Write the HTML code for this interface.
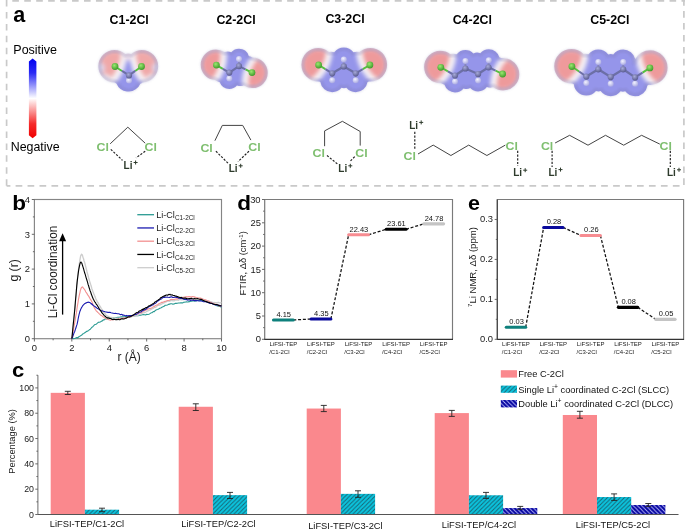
<!DOCTYPE html>
<html><head><meta charset="utf-8"><style>
html,body{margin:0;padding:0;background:#fff;}
svg{display:block;font-family:"Liberation Sans", sans-serif;will-change:transform;}
</style></head><body>
<svg width="685" height="529" viewBox="0 0 685 529">
<rect width="685" height="529" fill="#fff"/>
<line x1="12.30" y1="0.85" x2="685.00" y2="0.85" stroke="#c9c9c9" stroke-width="1.7" stroke-dasharray="6.6 5.35"/>
<line x1="6.60" y1="0.00" x2="6.60" y2="186.50" stroke="#c9c9c9" stroke-width="1.7" stroke-dasharray="6.5 5.45"/>
<line x1="6.60" y1="185.90" x2="10.40" y2="185.90" stroke="#c9c9c9" stroke-width="1.7" />
<line x1="15.60" y1="185.90" x2="682.00" y2="185.90" stroke="#c9c9c9" stroke-width="1.7" stroke-dasharray="6.7 5.25"/>
<line x1="683.90" y1="0.00" x2="683.90" y2="186.50" stroke="#c9c9c9" stroke-width="1.7" stroke-dasharray="6.6 5.35" stroke-dashoffset="0.9"/>
<text x="13.20" y="22.40" font-size="21.5" text-anchor="start" font-weight="bold" fill="#000" >a</text>
<text x="129.20" y="24.00" font-size="12.4" text-anchor="middle" font-weight="bold" fill="#000" >C1-2Cl</text>
<text x="236.00" y="23.80" font-size="12.4" text-anchor="middle" font-weight="bold" fill="#000" >C2-2Cl</text>
<text x="345.00" y="23.10" font-size="12.4" text-anchor="middle" font-weight="bold" fill="#000" >C3-2Cl</text>
<text x="472.30" y="23.80" font-size="12.4" text-anchor="middle" font-weight="bold" fill="#000" >C4-2Cl</text>
<text x="609.90" y="23.80" font-size="12.4" text-anchor="middle" font-weight="bold" fill="#000" >C5-2Cl</text>
<defs><linearGradient id="cbar" x1="0" y1="0" x2="0" y2="1"><stop offset="0" stop-color="#0000f0"/><stop offset="0.18" stop-color="#2a2af5"/><stop offset="0.5" stop-color="#ffffff"/><stop offset="0.82" stop-color="#f52a2a"/><stop offset="1" stop-color="#f00000"/></linearGradient></defs>
<polygon points="32.65,58.6 36.4,61.6 36.4,135.2 32.65,138.2 28.9,135.2 28.9,61.6" fill="url(#cbar)"/>
<text x="35.20" y="53.50" font-size="12.5" text-anchor="middle" font-weight="normal" fill="#000" >Positive</text>
<text x="35.20" y="151.10" font-size="12.4" text-anchor="middle" font-weight="normal" fill="#000" >Negative</text>
<defs><filter id="b0" x="-20%" y="-20%" width="140%" height="140%"><feGaussianBlur stdDeviation="0.55"/></filter><filter id="b1" x="-20%" y="-20%" width="140%" height="140%"><feGaussianBlur stdDeviation="0.9"/></filter><filter id="b2" x="-20%" y="-20%" width="140%" height="140%"><feGaussianBlur stdDeviation="1.9"/></filter><radialGradient id="gCl" cx="0.4" cy="0.35" r="0.65"><stop offset="0" stop-color="#9be870"/><stop offset="1" stop-color="#3f9c2a"/></radialGradient><radialGradient id="gC" cx="0.4" cy="0.35" r="0.65"><stop offset="0" stop-color="#a6a9d8"/><stop offset="1" stop-color="#5a5c90"/></radialGradient><radialGradient id="gH" cx="0.4" cy="0.35" r="0.65"><stop offset="0" stop-color="#f2f2ff"/><stop offset="1" stop-color="#aaaae2"/></radialGradient></defs><clipPath id="m1cl"><circle cx="114.58" cy="66.23" r="16.30" fill="#000"/><circle cx="122.00" cy="70.95" r="13.80" fill="#000"/><circle cx="122.00" cy="73.55" r="10.50" fill="#000"/><circle cx="141.91" cy="66.21" r="16.30" fill="#000"/><circle cx="135.25" cy="70.95" r="13.80" fill="#000"/><circle cx="135.25" cy="73.55" r="10.50" fill="#000"/><circle cx="129.00" cy="75.40" r="12.50" fill="#000"/><circle cx="129.00" cy="80.60" r="11.00" fill="#000"/><circle cx="128.30" cy="65.00" r="11.50" fill="#000"/><circle cx="128.50" cy="78.50" r="13.00" fill="#000"/></clipPath><clipPath id="m1cs"><circle cx="114.58" cy="66.23" r="14.70" fill="#000"/><circle cx="122.00" cy="70.95" r="12.20" fill="#000"/><circle cx="122.00" cy="73.55" r="8.90" fill="#000"/><circle cx="141.91" cy="66.21" r="14.70" fill="#000"/><circle cx="135.25" cy="70.95" r="12.20" fill="#000"/><circle cx="135.25" cy="73.55" r="8.90" fill="#000"/><circle cx="129.00" cy="75.40" r="10.90" fill="#000"/><circle cx="129.00" cy="80.60" r="9.40" fill="#000"/><circle cx="128.30" cy="65.00" r="9.90" fill="#000"/><circle cx="128.50" cy="78.50" r="11.40" fill="#000"/></clipPath><mask id="m1rg" maskUnits="userSpaceOnUse" x="89.57804519686124" y="40" width="77.3292614031837" height="65.6"><g filter="url(#b1)"><circle cx="114.58" cy="66.23" r="16.30" fill="#fff"/><circle cx="122.00" cy="70.95" r="13.80" fill="#fff"/><circle cx="122.00" cy="73.55" r="10.50" fill="#fff"/><circle cx="141.91" cy="66.21" r="16.30" fill="#fff"/><circle cx="135.25" cy="70.95" r="13.80" fill="#fff"/><circle cx="135.25" cy="73.55" r="10.50" fill="#fff"/><circle cx="129.00" cy="75.40" r="12.50" fill="#fff"/><circle cx="129.00" cy="80.60" r="11.00" fill="#fff"/><circle cx="128.30" cy="65.00" r="11.50" fill="#fff"/><circle cx="128.50" cy="78.50" r="13.00" fill="#fff"/><circle cx="114.58" cy="66.23" r="14.30" fill="#000"/><circle cx="122.00" cy="70.95" r="11.80" fill="#000"/><circle cx="122.00" cy="73.55" r="8.50" fill="#000"/><circle cx="141.91" cy="66.21" r="14.30" fill="#000"/><circle cx="135.25" cy="70.95" r="11.80" fill="#000"/><circle cx="135.25" cy="73.55" r="8.50" fill="#000"/><circle cx="129.00" cy="75.40" r="10.50" fill="#000"/><circle cx="129.00" cy="80.60" r="9.00" fill="#000"/><circle cx="128.30" cy="65.00" r="9.50" fill="#000"/><circle cx="128.50" cy="78.50" r="11.00" fill="#000"/></g></mask><g filter="url(#b0)"><g clip-path="url(#m1cl)"><g filter="url(#b2)"><rect x="89.57804519686124" y="40" width="77.3292614031837" height="65.6" fill="#9595ea"/><circle cx="86.40" cy="54.62" r="40" fill="#f8f4f6"/><circle cx="170.20" cy="54.62" r="40" fill="#f8f4f6"/><circle cx="81.15" cy="51.97" r="40" fill="#dcc6d6"/><circle cx="175.45" cy="51.97" r="40" fill="#dcc6d6"/><g clip-path="url(#m1cs)"><circle cx="81.15" cy="51.97" r="40" fill="#f0a8a8"/><circle cx="175.45" cy="51.97" r="40" fill="#f0a8a8"/></g><circle cx="128.3" cy="55" r="5.5" fill="#eedfe8"/><circle cx="104" cy="82" r="8" fill="#ece6ee"/><circle cx="153" cy="82" r="8" fill="#ece6ee"/><circle cx="100" cy="68" r="5" fill="#dcd4e8"/><circle cx="157" cy="68" r="5" fill="#dcd4e8"/></g></g><rect x="89.57804519686124" y="40" width="77.3292614031837" height="65.6" fill="#7c78b0" fill-opacity="0.3" mask="url(#m1rg)"/></g><line x1="115" y1="66.5" x2="122.0" y2="70.95" stroke="#55c040" stroke-width="1.9"/><line x1="122.0" y1="70.95" x2="129" y2="75.4" stroke="#6c6fa6" stroke-width="2.1"/><line x1="141.5" y1="66.5" x2="135.25" y2="70.95" stroke="#55c040" stroke-width="1.9"/><line x1="135.25" y1="70.95" x2="129" y2="75.4" stroke="#6c6fa6" stroke-width="2.1"/><line x1="129" y1="80.6" x2="129" y2="75.4" stroke="#8587bd" stroke-width="1.9"/><circle cx="129" cy="80.6" r="3.0" fill="url(#gH)"/><circle cx="129" cy="75.4" r="3.1" fill="url(#gC)"/><circle cx="115" cy="66.5" r="3.4" fill="url(#gCl)"/><circle cx="141.5" cy="66.5" r="3.4" fill="url(#gCl)"/><clipPath id="m2cl"><circle cx="215.97" cy="64.85" r="15.30" fill="#000"/><circle cx="222.85" cy="68.85" r="13.80" fill="#000"/><circle cx="222.85" cy="71.85" r="10.50" fill="#000"/><circle cx="227.70" cy="62.10" r="10.50" fill="#000"/><circle cx="252.45" cy="72.82" r="15.30" fill="#000"/><circle cx="245.50" cy="69.35" r="13.80" fill="#000"/><circle cx="240.65" cy="75.60" r="10.50" fill="#000"/><circle cx="245.50" cy="65.85" r="10.50" fill="#000"/><circle cx="229.30" cy="72.60" r="12.50" fill="#000"/><circle cx="239.00" cy="66.10" r="12.50" fill="#000"/><circle cx="229.30" cy="78.60" r="10.30" fill="#000"/><circle cx="239.00" cy="59.10" r="10.30" fill="#000"/><circle cx="234.15" cy="69.35" r="12.50" fill="#000"/></clipPath><clipPath id="m2cs"><circle cx="215.97" cy="64.85" r="13.70" fill="#000"/><circle cx="222.85" cy="68.85" r="12.20" fill="#000"/><circle cx="222.85" cy="71.85" r="8.90" fill="#000"/><circle cx="227.70" cy="62.10" r="8.90" fill="#000"/><circle cx="252.45" cy="72.82" r="13.70" fill="#000"/><circle cx="245.50" cy="69.35" r="12.20" fill="#000"/><circle cx="240.65" cy="75.60" r="8.90" fill="#000"/><circle cx="245.50" cy="65.85" r="8.90" fill="#000"/><circle cx="229.30" cy="72.60" r="10.90" fill="#000"/><circle cx="239.00" cy="66.10" r="10.90" fill="#000"/><circle cx="229.30" cy="78.60" r="8.70" fill="#000"/><circle cx="239.00" cy="59.10" r="8.70" fill="#000"/><circle cx="234.15" cy="69.35" r="10.90" fill="#000"/></clipPath><mask id="m2rg" maskUnits="userSpaceOnUse" x="190.9677464066579" y="34.1" width="86.47946718884208" height="69.5"><g filter="url(#b1)"><circle cx="215.97" cy="64.85" r="15.30" fill="#fff"/><circle cx="222.85" cy="68.85" r="13.80" fill="#fff"/><circle cx="222.85" cy="71.85" r="10.50" fill="#fff"/><circle cx="227.70" cy="62.10" r="10.50" fill="#fff"/><circle cx="252.45" cy="72.82" r="15.30" fill="#fff"/><circle cx="245.50" cy="69.35" r="13.80" fill="#fff"/><circle cx="240.65" cy="75.60" r="10.50" fill="#fff"/><circle cx="245.50" cy="65.85" r="10.50" fill="#fff"/><circle cx="229.30" cy="72.60" r="12.50" fill="#fff"/><circle cx="239.00" cy="66.10" r="12.50" fill="#fff"/><circle cx="229.30" cy="78.60" r="10.30" fill="#fff"/><circle cx="239.00" cy="59.10" r="10.30" fill="#fff"/><circle cx="234.15" cy="69.35" r="12.50" fill="#fff"/><circle cx="215.97" cy="64.85" r="13.30" fill="#000"/><circle cx="222.85" cy="68.85" r="11.80" fill="#000"/><circle cx="222.85" cy="71.85" r="8.50" fill="#000"/><circle cx="227.70" cy="62.10" r="8.50" fill="#000"/><circle cx="252.45" cy="72.82" r="13.30" fill="#000"/><circle cx="245.50" cy="69.35" r="11.80" fill="#000"/><circle cx="240.65" cy="75.60" r="8.50" fill="#000"/><circle cx="245.50" cy="65.85" r="8.50" fill="#000"/><circle cx="229.30" cy="72.60" r="10.50" fill="#000"/><circle cx="239.00" cy="66.10" r="10.50" fill="#000"/><circle cx="229.30" cy="78.60" r="8.30" fill="#000"/><circle cx="239.00" cy="59.10" r="8.30" fill="#000"/><circle cx="234.15" cy="69.35" r="10.50" fill="#000"/></g></mask><g filter="url(#b0)"><g clip-path="url(#m2cl)"><g filter="url(#b2)"><rect x="190.9677464066579" y="34.1" width="86.47946718884208" height="69.5" fill="#9595ea"/><circle cx="186.40" cy="56.53" r="40" fill="#f8f4f6"/><circle cx="282.39" cy="82.53" r="40" fill="#f8f4f6"/><circle cx="180.76" cy="54.81" r="40" fill="#dcc6d6"/><circle cx="288.01" cy="84.32" r="40" fill="#dcc6d6"/><g clip-path="url(#m2cs)"><circle cx="180.76" cy="54.81" r="40" fill="#ee9a9b"/><circle cx="288.01" cy="84.32" r="40" fill="#ee9a9b"/></g></g></g><rect x="190.9677464066579" y="34.1" width="86.47946718884208" height="69.5" fill="#7c78b0" fill-opacity="0.3" mask="url(#m2rg)"/></g><line x1="229.3" y1="72.6" x2="239" y2="66.1" stroke="#6c6fa6" stroke-width="2.3"/><line x1="216.4" y1="65.1" x2="222.85000000000002" y2="68.85" stroke="#55c040" stroke-width="1.9"/><line x1="222.85000000000002" y1="68.85" x2="229.3" y2="72.6" stroke="#6c6fa6" stroke-width="2.1"/><line x1="252" y1="72.6" x2="245.5" y2="69.35" stroke="#55c040" stroke-width="1.9"/><line x1="245.5" y1="69.35" x2="239" y2="66.1" stroke="#6c6fa6" stroke-width="2.1"/><line x1="229.3" y1="78.6" x2="229.3" y2="72.6" stroke="#8587bd" stroke-width="1.9"/><line x1="239" y1="59.1" x2="239" y2="66.1" stroke="#8587bd" stroke-width="1.9"/><circle cx="229.3" cy="78.6" r="3.0" fill="url(#gH)"/><circle cx="239" cy="59.1" r="3.0" fill="url(#gH)"/><circle cx="229.3" cy="72.6" r="3.1" fill="url(#gC)"/><circle cx="239" cy="66.1" r="3.1" fill="url(#gC)"/><circle cx="216.4" cy="65.1" r="3.4" fill="url(#gCl)"/><circle cx="252" cy="72.6" r="3.4" fill="url(#gCl)"/><clipPath id="m3cl"><circle cx="318.17" cy="64.74" r="16.80" fill="#000"/><circle cx="325.40" cy="69.15" r="13.80" fill="#000"/><circle cx="325.40" cy="72.60" r="10.50" fill="#000"/><circle cx="331.20" cy="62.20" r="10.50" fill="#000"/><circle cx="370.33" cy="64.75" r="16.80" fill="#000"/><circle cx="362.80" cy="69.15" r="13.80" fill="#000"/><circle cx="356.85" cy="62.20" r="10.50" fill="#000"/><circle cx="362.80" cy="72.60" r="10.50" fill="#000"/><circle cx="332.20" cy="73.30" r="12.50" fill="#000"/><circle cx="343.80" cy="66.40" r="12.50" fill="#000"/><circle cx="355.70" cy="73.30" r="12.50" fill="#000"/><circle cx="332.20" cy="80.20" r="12.00" fill="#000"/><circle cx="343.80" cy="59.40" r="12.00" fill="#000"/><circle cx="355.70" cy="80.20" r="12.00" fill="#000"/><circle cx="338.00" cy="69.85" r="12.50" fill="#000"/><circle cx="349.75" cy="69.85" r="12.50" fill="#000"/><circle cx="343.95" cy="80.20" r="8.00" fill="#000"/></clipPath><clipPath id="m3cs"><circle cx="318.17" cy="64.74" r="15.20" fill="#000"/><circle cx="325.40" cy="69.15" r="12.20" fill="#000"/><circle cx="325.40" cy="72.60" r="8.90" fill="#000"/><circle cx="331.20" cy="62.20" r="8.90" fill="#000"/><circle cx="370.33" cy="64.75" r="15.20" fill="#000"/><circle cx="362.80" cy="69.15" r="12.20" fill="#000"/><circle cx="356.85" cy="62.20" r="8.90" fill="#000"/><circle cx="362.80" cy="72.60" r="8.90" fill="#000"/><circle cx="332.20" cy="73.30" r="10.90" fill="#000"/><circle cx="343.80" cy="66.40" r="10.90" fill="#000"/><circle cx="355.70" cy="73.30" r="10.90" fill="#000"/><circle cx="332.20" cy="80.20" r="10.40" fill="#000"/><circle cx="343.80" cy="59.40" r="10.40" fill="#000"/><circle cx="355.70" cy="80.20" r="10.40" fill="#000"/><circle cx="338.00" cy="69.85" r="10.90" fill="#000"/><circle cx="349.75" cy="69.85" r="10.90" fill="#000"/><circle cx="343.95" cy="80.20" r="6.40" fill="#000"/></clipPath><mask id="m3rg" maskUnits="userSpaceOnUse" x="293.17320401145736" y="34.4" width="102.1584647611565" height="70.80000000000001"><g filter="url(#b1)"><circle cx="318.17" cy="64.74" r="16.80" fill="#fff"/><circle cx="325.40" cy="69.15" r="13.80" fill="#fff"/><circle cx="325.40" cy="72.60" r="10.50" fill="#fff"/><circle cx="331.20" cy="62.20" r="10.50" fill="#fff"/><circle cx="370.33" cy="64.75" r="16.80" fill="#fff"/><circle cx="362.80" cy="69.15" r="13.80" fill="#fff"/><circle cx="356.85" cy="62.20" r="10.50" fill="#fff"/><circle cx="362.80" cy="72.60" r="10.50" fill="#fff"/><circle cx="332.20" cy="73.30" r="12.50" fill="#fff"/><circle cx="343.80" cy="66.40" r="12.50" fill="#fff"/><circle cx="355.70" cy="73.30" r="12.50" fill="#fff"/><circle cx="332.20" cy="80.20" r="12.00" fill="#fff"/><circle cx="343.80" cy="59.40" r="12.00" fill="#fff"/><circle cx="355.70" cy="80.20" r="12.00" fill="#fff"/><circle cx="338.00" cy="69.85" r="12.50" fill="#fff"/><circle cx="349.75" cy="69.85" r="12.50" fill="#fff"/><circle cx="343.95" cy="80.20" r="8.00" fill="#fff"/><circle cx="318.17" cy="64.74" r="14.80" fill="#000"/><circle cx="325.40" cy="69.15" r="11.80" fill="#000"/><circle cx="325.40" cy="72.60" r="8.50" fill="#000"/><circle cx="331.20" cy="62.20" r="8.50" fill="#000"/><circle cx="370.33" cy="64.75" r="14.80" fill="#000"/><circle cx="362.80" cy="69.15" r="11.80" fill="#000"/><circle cx="356.85" cy="62.20" r="8.50" fill="#000"/><circle cx="362.80" cy="72.60" r="8.50" fill="#000"/><circle cx="332.20" cy="73.30" r="10.50" fill="#000"/><circle cx="343.80" cy="66.40" r="10.50" fill="#000"/><circle cx="355.70" cy="73.30" r="10.50" fill="#000"/><circle cx="332.20" cy="80.20" r="10.00" fill="#000"/><circle cx="343.80" cy="59.40" r="10.00" fill="#000"/><circle cx="355.70" cy="80.20" r="10.00" fill="#000"/><circle cx="338.00" cy="69.85" r="10.50" fill="#000"/><circle cx="349.75" cy="69.85" r="10.50" fill="#000"/><circle cx="343.95" cy="80.20" r="6.00" fill="#000"/></g></mask><g filter="url(#b0)"><g clip-path="url(#m3cl)"><g filter="url(#b2)"><rect x="293.17320401145736" y="34.4" width="102.1584647611565" height="70.80000000000001" fill="#9595ea"/><circle cx="291.96" cy="50.23" r="40" fill="#f8f4f6"/><circle cx="396.54" cy="50.23" r="40" fill="#f8f4f6"/><circle cx="286.68" cy="47.59" r="40" fill="#dcc6d6"/><circle cx="401.82" cy="47.59" r="40" fill="#dcc6d6"/><g clip-path="url(#m3cs)"><circle cx="286.68" cy="47.59" r="40" fill="#ee9a9b"/><circle cx="401.82" cy="47.59" r="40" fill="#ee9a9b"/></g></g></g><rect x="293.17320401145736" y="34.4" width="102.1584647611565" height="70.80000000000001" fill="#7c78b0" fill-opacity="0.3" mask="url(#m3rg)"/></g><line x1="332.2" y1="73.3" x2="343.8" y2="66.4" stroke="#6c6fa6" stroke-width="2.3"/><line x1="343.8" y1="66.4" x2="355.7" y2="73.3" stroke="#6c6fa6" stroke-width="2.3"/><line x1="318.6" y1="65" x2="325.4" y2="69.15" stroke="#55c040" stroke-width="1.9"/><line x1="325.4" y1="69.15" x2="332.2" y2="73.3" stroke="#6c6fa6" stroke-width="2.1"/><line x1="369.9" y1="65" x2="362.79999999999995" y2="69.15" stroke="#55c040" stroke-width="1.9"/><line x1="362.79999999999995" y1="69.15" x2="355.7" y2="73.3" stroke="#6c6fa6" stroke-width="2.1"/><line x1="332.2" y1="80.2" x2="332.2" y2="73.3" stroke="#8587bd" stroke-width="1.9"/><line x1="343.8" y1="59.4" x2="343.8" y2="66.4" stroke="#8587bd" stroke-width="1.9"/><line x1="355.7" y1="80.2" x2="355.7" y2="73.3" stroke="#8587bd" stroke-width="1.9"/><circle cx="332.2" cy="80.2" r="3.0" fill="url(#gH)"/><circle cx="343.8" cy="59.4" r="3.0" fill="url(#gH)"/><circle cx="355.7" cy="80.2" r="3.0" fill="url(#gH)"/><circle cx="332.2" cy="73.3" r="3.1" fill="url(#gC)"/><circle cx="343.8" cy="66.4" r="3.1" fill="url(#gC)"/><circle cx="355.7" cy="73.3" r="3.1" fill="url(#gC)"/><circle cx="318.6" cy="65" r="3.4" fill="url(#gCl)"/><circle cx="369.9" cy="65" r="3.4" fill="url(#gCl)"/><clipPath id="m4cl"><circle cx="440.37" cy="67.05" r="16.30" fill="#000"/><circle cx="447.90" cy="71.40" r="13.80" fill="#000"/><circle cx="447.90" cy="74.40" r="10.50" fill="#000"/><circle cx="453.10" cy="64.15" r="10.50" fill="#000"/><circle cx="503.05" cy="74.21" r="16.30" fill="#000"/><circle cx="495.55" cy="70.65" r="13.80" fill="#000"/><circle cx="490.35" cy="77.20" r="10.50" fill="#000"/><circle cx="495.70" cy="67.10" r="10.50" fill="#000"/><circle cx="455.00" cy="75.50" r="12.50" fill="#000"/><circle cx="465.40" cy="68.50" r="12.50" fill="#000"/><circle cx="478.10" cy="74.00" r="12.50" fill="#000"/><circle cx="488.50" cy="67.30" r="12.50" fill="#000"/><circle cx="455.00" cy="81.50" r="11.00" fill="#000"/><circle cx="465.40" cy="61.00" r="11.00" fill="#000"/><circle cx="478.10" cy="80.40" r="11.00" fill="#000"/><circle cx="488.80" cy="60.20" r="11.00" fill="#000"/><circle cx="460.20" cy="72.00" r="12.50" fill="#000"/><circle cx="471.75" cy="71.25" r="12.50" fill="#000"/><circle cx="483.30" cy="70.65" r="12.50" fill="#000"/><circle cx="466.55" cy="80.95" r="8.00" fill="#000"/><circle cx="477.10" cy="60.60" r="8.00" fill="#000"/></clipPath><clipPath id="m4cs"><circle cx="440.37" cy="67.05" r="14.70" fill="#000"/><circle cx="447.90" cy="71.40" r="12.20" fill="#000"/><circle cx="447.90" cy="74.40" r="8.90" fill="#000"/><circle cx="453.10" cy="64.15" r="8.90" fill="#000"/><circle cx="503.05" cy="74.21" r="14.70" fill="#000"/><circle cx="495.55" cy="70.65" r="12.20" fill="#000"/><circle cx="490.35" cy="77.20" r="8.90" fill="#000"/><circle cx="495.70" cy="67.10" r="8.90" fill="#000"/><circle cx="455.00" cy="75.50" r="10.90" fill="#000"/><circle cx="465.40" cy="68.50" r="10.90" fill="#000"/><circle cx="478.10" cy="74.00" r="10.90" fill="#000"/><circle cx="488.50" cy="67.30" r="10.90" fill="#000"/><circle cx="455.00" cy="81.50" r="9.40" fill="#000"/><circle cx="465.40" cy="61.00" r="9.40" fill="#000"/><circle cx="478.10" cy="80.40" r="9.40" fill="#000"/><circle cx="488.80" cy="60.20" r="9.40" fill="#000"/><circle cx="460.20" cy="72.00" r="10.90" fill="#000"/><circle cx="471.75" cy="71.25" r="10.90" fill="#000"/><circle cx="483.30" cy="70.65" r="10.90" fill="#000"/><circle cx="466.55" cy="80.95" r="6.40" fill="#000"/><circle cx="477.10" cy="60.60" r="6.40" fill="#000"/></clipPath><mask id="m4rg" maskUnits="userSpaceOnUse" x="415.36700877105426" y="35.2" width="112.68459894379163" height="71.3"><g filter="url(#b1)"><circle cx="440.37" cy="67.05" r="16.30" fill="#fff"/><circle cx="447.90" cy="71.40" r="13.80" fill="#fff"/><circle cx="447.90" cy="74.40" r="10.50" fill="#fff"/><circle cx="453.10" cy="64.15" r="10.50" fill="#fff"/><circle cx="503.05" cy="74.21" r="16.30" fill="#fff"/><circle cx="495.55" cy="70.65" r="13.80" fill="#fff"/><circle cx="490.35" cy="77.20" r="10.50" fill="#fff"/><circle cx="495.70" cy="67.10" r="10.50" fill="#fff"/><circle cx="455.00" cy="75.50" r="12.50" fill="#fff"/><circle cx="465.40" cy="68.50" r="12.50" fill="#fff"/><circle cx="478.10" cy="74.00" r="12.50" fill="#fff"/><circle cx="488.50" cy="67.30" r="12.50" fill="#fff"/><circle cx="455.00" cy="81.50" r="11.00" fill="#fff"/><circle cx="465.40" cy="61.00" r="11.00" fill="#fff"/><circle cx="478.10" cy="80.40" r="11.00" fill="#fff"/><circle cx="488.80" cy="60.20" r="11.00" fill="#fff"/><circle cx="460.20" cy="72.00" r="12.50" fill="#fff"/><circle cx="471.75" cy="71.25" r="12.50" fill="#fff"/><circle cx="483.30" cy="70.65" r="12.50" fill="#fff"/><circle cx="466.55" cy="80.95" r="8.00" fill="#fff"/><circle cx="477.10" cy="60.60" r="8.00" fill="#fff"/><circle cx="440.37" cy="67.05" r="14.30" fill="#000"/><circle cx="447.90" cy="71.40" r="11.80" fill="#000"/><circle cx="447.90" cy="74.40" r="8.50" fill="#000"/><circle cx="453.10" cy="64.15" r="8.50" fill="#000"/><circle cx="503.05" cy="74.21" r="14.30" fill="#000"/><circle cx="495.55" cy="70.65" r="11.80" fill="#000"/><circle cx="490.35" cy="77.20" r="8.50" fill="#000"/><circle cx="495.70" cy="67.10" r="8.50" fill="#000"/><circle cx="455.00" cy="75.50" r="10.50" fill="#000"/><circle cx="465.40" cy="68.50" r="10.50" fill="#000"/><circle cx="478.10" cy="74.00" r="10.50" fill="#000"/><circle cx="488.50" cy="67.30" r="10.50" fill="#000"/><circle cx="455.00" cy="81.50" r="9.00" fill="#000"/><circle cx="465.40" cy="61.00" r="9.00" fill="#000"/><circle cx="478.10" cy="80.40" r="9.00" fill="#000"/><circle cx="488.80" cy="60.20" r="9.00" fill="#000"/><circle cx="460.20" cy="72.00" r="10.50" fill="#000"/><circle cx="471.75" cy="71.25" r="10.50" fill="#000"/><circle cx="483.30" cy="70.65" r="10.50" fill="#000"/><circle cx="466.55" cy="80.95" r="6.00" fill="#000"/><circle cx="477.10" cy="60.60" r="6.00" fill="#000"/></g></mask><g filter="url(#b0)"><g clip-path="url(#m4cl)"><g filter="url(#b2)"><rect x="415.36700877105426" y="35.2" width="112.68459894379163" height="71.3" fill="#9595ea"/><circle cx="415.76" cy="53.79" r="40" fill="#f8f4f6"/><circle cx="530.73" cy="84.72" r="40" fill="#f8f4f6"/><circle cx="410.29" cy="51.58" r="40" fill="#dcc6d6"/><circle cx="536.25" cy="86.82" r="40" fill="#dcc6d6"/><g clip-path="url(#m4cs)"><circle cx="410.29" cy="51.58" r="40" fill="#ee9a9b"/><circle cx="536.25" cy="86.82" r="40" fill="#ee9a9b"/></g></g></g><rect x="415.36700877105426" y="35.2" width="112.68459894379163" height="71.3" fill="#7c78b0" fill-opacity="0.3" mask="url(#m4rg)"/></g><line x1="455" y1="75.5" x2="465.4" y2="68.5" stroke="#6c6fa6" stroke-width="2.3"/><line x1="465.4" y1="68.5" x2="478.1" y2="74" stroke="#6c6fa6" stroke-width="2.3"/><line x1="478.1" y1="74" x2="488.5" y2="67.3" stroke="#6c6fa6" stroke-width="2.3"/><line x1="440.8" y1="67.3" x2="447.9" y2="71.4" stroke="#55c040" stroke-width="1.9"/><line x1="447.9" y1="71.4" x2="455" y2="75.5" stroke="#6c6fa6" stroke-width="2.1"/><line x1="502.6" y1="74" x2="495.55" y2="70.65" stroke="#55c040" stroke-width="1.9"/><line x1="495.55" y1="70.65" x2="488.5" y2="67.3" stroke="#6c6fa6" stroke-width="2.1"/><line x1="455" y1="81.5" x2="455" y2="75.5" stroke="#8587bd" stroke-width="1.9"/><line x1="465.4" y1="61" x2="465.4" y2="68.5" stroke="#8587bd" stroke-width="1.9"/><line x1="478.1" y1="80.4" x2="478.1" y2="74" stroke="#8587bd" stroke-width="1.9"/><line x1="488.8" y1="60.2" x2="488.5" y2="67.3" stroke="#8587bd" stroke-width="1.9"/><circle cx="455" cy="81.5" r="3.0" fill="url(#gH)"/><circle cx="465.4" cy="61" r="3.0" fill="url(#gH)"/><circle cx="478.1" cy="80.4" r="3.0" fill="url(#gH)"/><circle cx="488.8" cy="60.2" r="3.0" fill="url(#gH)"/><circle cx="455" cy="75.5" r="3.1" fill="url(#gC)"/><circle cx="465.4" cy="68.5" r="3.1" fill="url(#gC)"/><circle cx="478.1" cy="74" r="3.1" fill="url(#gC)"/><circle cx="488.5" cy="67.3" r="3.1" fill="url(#gC)"/><circle cx="440.8" cy="67.3" r="3.4" fill="url(#gCl)"/><circle cx="502.6" cy="74" r="3.4" fill="url(#gCl)"/><clipPath id="m5cl"><circle cx="571.49" cy="66.21" r="17.30" fill="#000"/><circle cx="579.10" cy="71.50" r="13.80" fill="#000"/><circle cx="579.10" cy="74.80" r="10.50" fill="#000"/><circle cx="585.10" cy="64.30" r="10.50" fill="#000"/><circle cx="650.32" cy="67.63" r="17.30" fill="#000"/><circle cx="642.50" cy="72.65" r="13.80" fill="#000"/><circle cx="642.50" cy="75.80" r="10.50" fill="#000"/><circle cx="586.30" cy="76.50" r="12.50" fill="#000"/><circle cx="598.30" cy="69.30" r="12.50" fill="#000"/><circle cx="610.70" cy="76.90" r="12.50" fill="#000"/><circle cx="623.20" cy="69.30" r="12.50" fill="#000"/><circle cx="635.10" cy="77.40" r="12.50" fill="#000"/><circle cx="586.30" cy="83.10" r="12.50" fill="#000"/><circle cx="598.30" cy="62.10" r="12.50" fill="#000"/><circle cx="610.70" cy="83.70" r="12.50" fill="#000"/><circle cx="623.20" cy="62.10" r="12.50" fill="#000"/><circle cx="635.10" cy="83.70" r="12.50" fill="#000"/><circle cx="592.30" cy="72.90" r="12.50" fill="#000"/><circle cx="604.50" cy="73.10" r="12.50" fill="#000"/><circle cx="616.95" cy="73.10" r="12.50" fill="#000"/><circle cx="629.15" cy="73.35" r="12.50" fill="#000"/><circle cx="598.50" cy="83.40" r="8.00" fill="#000"/><circle cx="610.75" cy="62.10" r="8.00" fill="#000"/><circle cx="622.90" cy="83.70" r="8.00" fill="#000"/></clipPath><clipPath id="m5cs"><circle cx="571.49" cy="66.21" r="15.70" fill="#000"/><circle cx="579.10" cy="71.50" r="12.20" fill="#000"/><circle cx="579.10" cy="74.80" r="8.90" fill="#000"/><circle cx="585.10" cy="64.30" r="8.90" fill="#000"/><circle cx="650.32" cy="67.63" r="15.70" fill="#000"/><circle cx="642.50" cy="72.65" r="12.20" fill="#000"/><circle cx="642.50" cy="75.80" r="8.90" fill="#000"/><circle cx="586.30" cy="76.50" r="10.90" fill="#000"/><circle cx="598.30" cy="69.30" r="10.90" fill="#000"/><circle cx="610.70" cy="76.90" r="10.90" fill="#000"/><circle cx="623.20" cy="69.30" r="10.90" fill="#000"/><circle cx="635.10" cy="77.40" r="10.90" fill="#000"/><circle cx="586.30" cy="83.10" r="10.90" fill="#000"/><circle cx="598.30" cy="62.10" r="10.90" fill="#000"/><circle cx="610.70" cy="83.70" r="10.90" fill="#000"/><circle cx="623.20" cy="62.10" r="10.90" fill="#000"/><circle cx="635.10" cy="83.70" r="10.90" fill="#000"/><circle cx="592.30" cy="72.90" r="10.90" fill="#000"/><circle cx="604.50" cy="73.10" r="10.90" fill="#000"/><circle cx="616.95" cy="73.10" r="10.90" fill="#000"/><circle cx="629.15" cy="73.35" r="10.90" fill="#000"/><circle cx="598.50" cy="83.40" r="6.40" fill="#000"/><circle cx="610.75" cy="62.10" r="6.40" fill="#000"/><circle cx="622.90" cy="83.70" r="6.40" fill="#000"/></clipPath><mask id="m5rg" maskUnits="userSpaceOnUse" x="546.4893150171633" y="37.1" width="128.83145887036414" height="71.6"><g filter="url(#b1)"><circle cx="571.49" cy="66.21" r="17.30" fill="#fff"/><circle cx="579.10" cy="71.50" r="13.80" fill="#fff"/><circle cx="579.10" cy="74.80" r="10.50" fill="#fff"/><circle cx="585.10" cy="64.30" r="10.50" fill="#fff"/><circle cx="650.32" cy="67.63" r="17.30" fill="#fff"/><circle cx="642.50" cy="72.65" r="13.80" fill="#fff"/><circle cx="642.50" cy="75.80" r="10.50" fill="#fff"/><circle cx="586.30" cy="76.50" r="12.50" fill="#fff"/><circle cx="598.30" cy="69.30" r="12.50" fill="#fff"/><circle cx="610.70" cy="76.90" r="12.50" fill="#fff"/><circle cx="623.20" cy="69.30" r="12.50" fill="#fff"/><circle cx="635.10" cy="77.40" r="12.50" fill="#fff"/><circle cx="586.30" cy="83.10" r="12.50" fill="#fff"/><circle cx="598.30" cy="62.10" r="12.50" fill="#fff"/><circle cx="610.70" cy="83.70" r="12.50" fill="#fff"/><circle cx="623.20" cy="62.10" r="12.50" fill="#fff"/><circle cx="635.10" cy="83.70" r="12.50" fill="#fff"/><circle cx="592.30" cy="72.90" r="12.50" fill="#fff"/><circle cx="604.50" cy="73.10" r="12.50" fill="#fff"/><circle cx="616.95" cy="73.10" r="12.50" fill="#fff"/><circle cx="629.15" cy="73.35" r="12.50" fill="#fff"/><circle cx="598.50" cy="83.40" r="8.00" fill="#fff"/><circle cx="610.75" cy="62.10" r="8.00" fill="#fff"/><circle cx="622.90" cy="83.70" r="8.00" fill="#fff"/><circle cx="571.49" cy="66.21" r="15.30" fill="#000"/><circle cx="579.10" cy="71.50" r="11.80" fill="#000"/><circle cx="579.10" cy="74.80" r="8.50" fill="#000"/><circle cx="585.10" cy="64.30" r="8.50" fill="#000"/><circle cx="650.32" cy="67.63" r="15.30" fill="#000"/><circle cx="642.50" cy="72.65" r="11.80" fill="#000"/><circle cx="642.50" cy="75.80" r="8.50" fill="#000"/><circle cx="586.30" cy="76.50" r="10.50" fill="#000"/><circle cx="598.30" cy="69.30" r="10.50" fill="#000"/><circle cx="610.70" cy="76.90" r="10.50" fill="#000"/><circle cx="623.20" cy="69.30" r="10.50" fill="#000"/><circle cx="635.10" cy="77.40" r="10.50" fill="#000"/><circle cx="586.30" cy="83.10" r="10.50" fill="#000"/><circle cx="598.30" cy="62.10" r="10.50" fill="#000"/><circle cx="610.70" cy="83.70" r="10.50" fill="#000"/><circle cx="623.20" cy="62.10" r="10.50" fill="#000"/><circle cx="635.10" cy="83.70" r="10.50" fill="#000"/><circle cx="592.30" cy="72.90" r="10.50" fill="#000"/><circle cx="604.50" cy="73.10" r="10.50" fill="#000"/><circle cx="616.95" cy="73.10" r="10.50" fill="#000"/><circle cx="629.15" cy="73.35" r="10.50" fill="#000"/><circle cx="598.50" cy="83.40" r="6.00" fill="#000"/><circle cx="610.75" cy="62.10" r="6.00" fill="#000"/><circle cx="622.90" cy="83.70" r="6.00" fill="#000"/></g></mask><g filter="url(#b0)"><g clip-path="url(#m5cl)"><g filter="url(#b2)"><rect x="546.4893150171633" y="37.1" width="128.83145887036414" height="71.6" fill="#9595ea"/><circle cx="548.01" cy="51.89" r="40" fill="#f8f4f6"/><circle cx="675.67" cy="53.50" r="40" fill="#f8f4f6"/><circle cx="542.65" cy="49.45" r="40" fill="#dcc6d6"/><circle cx="681.13" cy="51.24" r="40" fill="#dcc6d6"/><g clip-path="url(#m5cs)"><circle cx="542.65" cy="49.45" r="40" fill="#ee9a9b"/><circle cx="681.13" cy="51.24" r="40" fill="#ee9a9b"/></g></g></g><rect x="546.4893150171633" y="37.1" width="128.83145887036414" height="71.6" fill="#7c78b0" fill-opacity="0.3" mask="url(#m5rg)"/></g><line x1="586.3" y1="76.5" x2="598.3" y2="69.3" stroke="#6c6fa6" stroke-width="2.3"/><line x1="598.3" y1="69.3" x2="610.7" y2="76.9" stroke="#6c6fa6" stroke-width="2.3"/><line x1="610.7" y1="76.9" x2="623.2" y2="69.3" stroke="#6c6fa6" stroke-width="2.3"/><line x1="623.2" y1="69.3" x2="635.1" y2="77.4" stroke="#6c6fa6" stroke-width="2.3"/><line x1="571.9" y1="66.5" x2="579.0999999999999" y2="71.5" stroke="#55c040" stroke-width="1.9"/><line x1="579.0999999999999" y1="71.5" x2="586.3" y2="76.5" stroke="#6c6fa6" stroke-width="2.1"/><line x1="649.9" y1="67.9" x2="642.5" y2="72.65" stroke="#55c040" stroke-width="1.9"/><line x1="642.5" y1="72.65" x2="635.1" y2="77.4" stroke="#6c6fa6" stroke-width="2.1"/><line x1="586.3" y1="83.1" x2="586.3" y2="76.5" stroke="#8587bd" stroke-width="1.9"/><line x1="598.3" y1="62.1" x2="598.3" y2="69.3" stroke="#8587bd" stroke-width="1.9"/><line x1="610.7" y1="83.7" x2="610.7" y2="76.9" stroke="#8587bd" stroke-width="1.9"/><line x1="623.2" y1="62.1" x2="623.2" y2="69.3" stroke="#8587bd" stroke-width="1.9"/><line x1="635.1" y1="83.7" x2="635.1" y2="77.4" stroke="#8587bd" stroke-width="1.9"/><circle cx="586.3" cy="83.1" r="3.0" fill="url(#gH)"/><circle cx="598.3" cy="62.1" r="3.0" fill="url(#gH)"/><circle cx="610.7" cy="83.7" r="3.0" fill="url(#gH)"/><circle cx="623.2" cy="62.1" r="3.0" fill="url(#gH)"/><circle cx="635.1" cy="83.7" r="3.0" fill="url(#gH)"/><circle cx="586.3" cy="76.5" r="3.1" fill="url(#gC)"/><circle cx="598.3" cy="69.3" r="3.1" fill="url(#gC)"/><circle cx="610.7" cy="76.9" r="3.1" fill="url(#gC)"/><circle cx="623.2" cy="69.3" r="3.1" fill="url(#gC)"/><circle cx="635.1" cy="77.4" r="3.1" fill="url(#gC)"/><circle cx="571.9" cy="66.5" r="3.4" fill="url(#gCl)"/><circle cx="649.9" cy="67.9" r="3.4" fill="url(#gCl)"/>
<polyline points="110.2,143.8 127.8,127.2 145.2,143.2" fill="none" stroke="#444444" stroke-width="1.0" />
<text x="96.6" y="151.2" font-size="11.2" font-weight="bold" fill="#7fbf70" textLength="12.4" lengthAdjust="spacingAndGlyphs">Cl</text>
<text x="144.5" y="151.2" font-size="11.2" font-weight="bold" fill="#7fbf70" textLength="12.4" lengthAdjust="spacingAndGlyphs">Cl</text>
<polyline points="110.8,149.3 122.5,160.4" fill="none" stroke="#1e1e1e" stroke-width="1.15" stroke-dasharray="2.2 1.5"/>
<polyline points="145.2,151.2 136.0,157.9" fill="none" stroke="#1e1e1e" stroke-width="1.15" stroke-dasharray="2.2 1.5"/>
<text x="123.6" y="168.7" font-size="10" font-weight="bold" fill="#2e3b2c">Li</text>
<path d="M133.6,162.5h4M135.6,160.5v4" stroke="#2e3b2c" stroke-width="1.0"/>
<polyline points="214.9,140.7 222.3,125.4 242.7,125.4 250.9,140.1" fill="none" stroke="#444444" stroke-width="1.0" />
<text x="200.4" y="151.8" font-size="11.2" font-weight="bold" fill="#7fbf70" textLength="12.4" lengthAdjust="spacingAndGlyphs">Cl</text>
<text x="248.3" y="150.8" font-size="11.2" font-weight="bold" fill="#7fbf70" textLength="12.4" lengthAdjust="spacingAndGlyphs">Cl</text>
<polyline points="215.9,151.2 228.2,163.4" fill="none" stroke="#1e1e1e" stroke-width="1.15" stroke-dasharray="2.2 1.5"/>
<polyline points="249.0,151.2 238.0,161.6" fill="none" stroke="#1e1e1e" stroke-width="1.15" stroke-dasharray="2.2 1.5"/>
<text x="228.7" y="172.0" font-size="10" font-weight="bold" fill="#2e3b2c">Li</text>
<path d="M238.7,165.8h4M240.7,163.8v4" stroke="#2e3b2c" stroke-width="1.0"/>
<polyline points="324.6,146.2 324.6,130.9 342.4,121.3 360.2,131.5 360.2,145.6" fill="none" stroke="#444444" stroke-width="1.0" />
<text x="312.6" y="156.7" font-size="11.2" font-weight="bold" fill="#7fbf70" textLength="12.4" lengthAdjust="spacingAndGlyphs">Cl</text>
<text x="355.2" y="156.7" font-size="11.2" font-weight="bold" fill="#7fbf70" textLength="12.4" lengthAdjust="spacingAndGlyphs">Cl</text>
<polyline points="327.0,155.5 337.5,164.0" fill="none" stroke="#1e1e1e" stroke-width="1.15" stroke-dasharray="2.2 1.5"/>
<polyline points="354.7,156.7 349.8,161.6" fill="none" stroke="#1e1e1e" stroke-width="1.15" stroke-dasharray="2.2 1.5"/>
<text x="338.3" y="172.0" font-size="10" font-weight="bold" fill="#2e3b2c">Li</text>
<path d="M348.3,165.8h4M350.3,163.8v4" stroke="#2e3b2c" stroke-width="1.0"/>
<text x="409.2" y="128.6" font-size="10" font-weight="bold" fill="#2e3b2c">Li</text>
<path d="M419.2,122.4h4M421.2,120.4v4" stroke="#2e3b2c" stroke-width="1.0"/>
<polyline points="414.8,131.8 414.8,149.9" fill="none" stroke="#1e1e1e" stroke-width="1.15" stroke-dasharray="2.2 1.5"/>
<text x="403.5" y="160.3" font-size="11.2" font-weight="bold" fill="#7fbf70" textLength="12.4" lengthAdjust="spacingAndGlyphs">Cl</text>
<polyline points="418.0,154.0 433.2,145.1 450.9,155.5 468.7,145.1 486.9,155.5 505.3,145.1" fill="none" stroke="#444444" stroke-width="1.0" />
<text x="505.6" y="149.9" font-size="11.2" font-weight="bold" fill="#7fbf70" textLength="12.4" lengthAdjust="spacingAndGlyphs">Cl</text>
<polyline points="517.7,150.8 517.7,166.0" fill="none" stroke="#1e1e1e" stroke-width="1.15" stroke-dasharray="2.2 1.5"/>
<text x="513.2" y="176.4" font-size="10" font-weight="bold" fill="#2e3b2c">Li</text>
<path d="M523.2,170.2h4M525.2,168.2v4" stroke="#2e3b2c" stroke-width="1.0"/>
<text x="540.9" y="149.6" font-size="11.2" font-weight="bold" fill="#7fbf70" textLength="12.4" lengthAdjust="spacingAndGlyphs">Cl</text>
<polyline points="555.1,143.0 569.6,135.3 588.0,145.2 605.5,135.3 623.7,145.2 641.6,135.3 659.8,144.1" fill="none" stroke="#444444" stroke-width="1.0" />
<text x="659.5" y="149.6" font-size="11.2" font-weight="bold" fill="#7fbf70" textLength="12.4" lengthAdjust="spacingAndGlyphs">Cl</text>
<polyline points="552.1,150.7 552.1,167.1" fill="none" stroke="#1e1e1e" stroke-width="1.15" stroke-dasharray="2.2 1.5"/>
<polyline points="670.3,150.7 670.3,167.0" fill="none" stroke="#1e1e1e" stroke-width="1.15" stroke-dasharray="2.2 1.5"/>
<text x="548.5" y="175.8" font-size="10" font-weight="bold" fill="#2e3b2c">Li</text>
<path d="M558.5,169.6h4M560.5,167.6v4" stroke="#2e3b2c" stroke-width="1.0"/>
<text x="667.0" y="176.0" font-size="10" font-weight="bold" fill="#2e3b2c">Li</text>
<path d="M677.0,169.8h4M679.0,167.8v4" stroke="#2e3b2c" stroke-width="1.0"/>
<defs><pattern id="hc" patternUnits="userSpaceOnUse" width="4.25" height="4.25"><rect width="4.25" height="4.25" fill="#0bc4de"/><path d="M-1.1,1.1 l2.2,-2.2 M0,4.25 l4.25,-4.25 M3.15,5.35 l2.2,-2.2" stroke="#186272" stroke-width="0.95"/></pattern><pattern id="hb" patternUnits="userSpaceOnUse" width="4.25" height="4.25"><rect width="4.25" height="4.25" fill="#0505a0"/><path d="M-1.1,3.15 l2.2,2.2 M0,0 l4.25,4.25 M3.15,-1.1 l2.2,2.2" stroke="#c0c0ff" stroke-width="0.85"/></pattern></defs>
<text x="0.00" y="0.00" font-size="20.5" text-anchor="start" font-weight="bold" fill="#000" transform="translate(12.2,209.6) scale(1.1,1)">b</text>
<rect x="34.4" y="199.5" width="187.1" height="139.2" fill="none" stroke="#858585" stroke-width="1.15"/>
<line x1="34.40" y1="338.70" x2="34.40" y2="341.50" stroke="#5a5a5a" stroke-width="0.9" />
<line x1="53.11" y1="338.70" x2="53.11" y2="340.30" stroke="#5a5a5a" stroke-width="0.9" />
<line x1="71.82" y1="338.70" x2="71.82" y2="341.50" stroke="#5a5a5a" stroke-width="0.9" />
<line x1="90.53" y1="338.70" x2="90.53" y2="340.30" stroke="#5a5a5a" stroke-width="0.9" />
<line x1="109.24" y1="338.70" x2="109.24" y2="341.50" stroke="#5a5a5a" stroke-width="0.9" />
<line x1="127.95" y1="338.70" x2="127.95" y2="340.30" stroke="#5a5a5a" stroke-width="0.9" />
<line x1="146.66" y1="338.70" x2="146.66" y2="341.50" stroke="#5a5a5a" stroke-width="0.9" />
<line x1="165.37" y1="338.70" x2="165.37" y2="340.30" stroke="#5a5a5a" stroke-width="0.9" />
<line x1="184.08" y1="338.70" x2="184.08" y2="341.50" stroke="#5a5a5a" stroke-width="0.9" />
<line x1="202.79" y1="338.70" x2="202.79" y2="340.30" stroke="#5a5a5a" stroke-width="0.9" />
<line x1="221.50" y1="338.70" x2="221.50" y2="341.50" stroke="#5a5a5a" stroke-width="0.9" />
<line x1="31.80" y1="338.70" x2="34.40" y2="338.70" stroke="#5a5a5a" stroke-width="0.9" />
<line x1="32.90" y1="321.30" x2="34.40" y2="321.30" stroke="#5a5a5a" stroke-width="0.9" />
<line x1="31.80" y1="303.90" x2="34.40" y2="303.90" stroke="#5a5a5a" stroke-width="0.9" />
<line x1="32.90" y1="286.50" x2="34.40" y2="286.50" stroke="#5a5a5a" stroke-width="0.9" />
<line x1="31.80" y1="269.10" x2="34.40" y2="269.10" stroke="#5a5a5a" stroke-width="0.9" />
<line x1="32.90" y1="251.70" x2="34.40" y2="251.70" stroke="#5a5a5a" stroke-width="0.9" />
<line x1="31.80" y1="234.30" x2="34.40" y2="234.30" stroke="#5a5a5a" stroke-width="0.9" />
<line x1="32.90" y1="216.90" x2="34.40" y2="216.90" stroke="#5a5a5a" stroke-width="0.9" />
<line x1="31.80" y1="199.50" x2="34.40" y2="199.50" stroke="#5a5a5a" stroke-width="0.9" />
<text x="34.40" y="350.90" font-size="9.4" text-anchor="middle" font-weight="normal" fill="#1a1a1a" >0</text>
<text x="71.82" y="350.90" font-size="9.4" text-anchor="middle" font-weight="normal" fill="#1a1a1a" >2</text>
<text x="109.24" y="350.90" font-size="9.4" text-anchor="middle" font-weight="normal" fill="#1a1a1a" >4</text>
<text x="146.66" y="350.90" font-size="9.4" text-anchor="middle" font-weight="normal" fill="#1a1a1a" >6</text>
<text x="184.08" y="350.90" font-size="9.4" text-anchor="middle" font-weight="normal" fill="#1a1a1a" >8</text>
<text x="221.50" y="350.90" font-size="9.4" text-anchor="middle" font-weight="normal" fill="#1a1a1a" >10</text>
<text x="29.90" y="341.90" font-size="9.4" text-anchor="end" font-weight="normal" fill="#1a1a1a" >0</text>
<text x="29.90" y="307.10" font-size="9.4" text-anchor="end" font-weight="normal" fill="#1a1a1a" >1</text>
<text x="29.90" y="272.30" font-size="9.4" text-anchor="end" font-weight="normal" fill="#1a1a1a" >2</text>
<text x="29.90" y="237.50" font-size="9.4" text-anchor="end" font-weight="normal" fill="#1a1a1a" >3</text>
<text x="29.90" y="202.70" font-size="9.4" text-anchor="end" font-weight="normal" fill="#1a1a1a" >4</text>
<text x="129.10" y="361.00" font-size="12" text-anchor="middle" font-weight="normal" fill="#1a1a1a" >r (&#197;)</text>
<text x="0.00" y="0.00" font-size="12.2" text-anchor="middle" font-weight="normal" fill="#1a1a1a" transform="translate(17.7,270.4) rotate(-90)">g (r)</text>
<text x="0.00" y="0.00" font-size="11.9" text-anchor="middle" font-weight="normal" fill="#1a1a1a" transform="translate(56.6,271.9) rotate(-90)">Li-Cl coordination</text>
<line x1="62.60" y1="314.60" x2="62.60" y2="240.00" stroke="#000" stroke-width="1.3" />
<polygon points="62.6,233.3 59.1,241.2 66.1,241.2" fill="#000"/>
<path d="M71.82,338.70 L72.26,338.55 L72.85,338.22 L73.55,338.81 L74.33,338.45 L75.15,338.33 L75.96,337.95 L76.74,337.57 L77.43,337.95 L78.04,337.58 L78.60,336.82 L79.13,336.69 L79.65,336.35 L80.19,336.00 L80.77,335.61 L81.40,335.19 L82.11,334.73 L82.92,333.78 L83.83,333.39 L84.79,332.75 L85.79,332.06 L86.80,331.25 L87.79,331.09 L88.73,330.40 L89.59,329.59 L90.38,329.20 L91.11,328.25 L91.80,327.34 L92.46,327.10 L93.12,326.28 L93.78,325.65 L94.47,324.71 L95.21,324.42 L95.99,324.17 L96.82,323.66 L97.68,322.93 L98.54,322.26 L99.40,322.17 L100.23,321.97 L101.02,321.56 L101.76,321.08 L102.40,320.90 L102.97,320.18 L103.48,319.82 L103.98,320.01 L104.49,319.60 L105.04,319.00 L105.68,318.79 L106.43,318.92 L107.27,318.61 L108.17,318.75 L109.11,318.76 L110.12,317.98 L111.19,318.12 L112.33,317.93 L113.55,317.88 L114.85,318.10 L116.27,317.73 L117.82,317.34 L119.47,317.27 L121.18,316.88 L122.92,316.92 L124.65,316.90 L126.33,316.39 L127.95,316.61 L129.52,316.36 L131.09,316.20 L132.65,316.15 L134.19,316.02 L135.70,315.75 L137.17,315.59 L138.58,315.60 L139.92,315.09 L141.19,315.08 L142.39,314.69 L143.53,314.64 L144.63,314.71 L145.70,314.91 L146.76,314.32 L147.82,314.51 L148.91,314.29 L150.00,313.63 L151.08,312.83 L152.15,312.63 L153.22,311.59 L154.29,311.63 L155.36,310.46 L156.43,309.77 L157.51,309.50 L158.60,308.96 L159.70,308.20 L160.80,308.02 L161.90,307.18 L163.00,306.72 L164.10,306.33 L165.21,305.24 L166.31,305.20 L167.40,304.99 L168.50,304.39 L169.60,304.11 L170.70,303.82 L171.80,303.75 L172.90,304.15 L174.00,303.98 L175.10,303.40 L176.21,303.38 L177.34,303.24 L178.48,302.97 L179.61,303.00 L180.73,302.77 L181.83,302.88 L182.88,302.90 L183.89,302.16 L184.83,302.32 L185.71,302.04 L186.54,301.81 L187.35,302.07 L188.16,302.03 L189.00,301.50 L189.87,301.60 L190.82,301.22 L191.84,301.13 L192.93,300.68 L194.06,301.09 L195.21,301.02 L196.37,300.88 L197.50,300.21 L198.59,300.72 L199.61,300.33 L200.56,300.52 L201.46,300.31 L202.32,300.66 L203.15,300.83 L203.98,300.89 L204.81,301.20 L205.65,301.45 L206.53,301.18 L207.44,301.68 L208.36,302.04 L209.30,302.53 L210.24,302.52 L211.18,303.23 L212.13,303.56 L213.08,303.59 L214.02,304.56 L215.00,304.72 L216.06,305.41 L217.15,305.78 L218.23,306.14 L219.24,306.42 L220.16,306.53 L220.92,306.92 L221.50,307.38" fill="none" stroke="#2a9a92" stroke-width="1.1" stroke-linejoin="round"/>
<path d="M71.82,338.70 L72.12,335.99 L72.51,331.79 L72.99,326.64 L73.52,321.47 L74.06,315.25 L74.60,310.05 L75.11,304.99 L75.56,300.06 L75.96,295.91 L76.33,291.82 L76.68,287.55 L77.02,284.09 L77.36,280.23 L77.69,276.97 L78.02,273.90 L78.37,270.77 L78.72,268.09 L79.07,265.43 L79.42,263.22 L79.77,260.96 L80.12,258.80 L80.47,256.97 L80.82,255.40 L81.18,255.17 L81.51,254.13 L81.83,254.62 L82.15,254.87 L82.46,255.40 L82.79,256.54 L83.15,257.68 L83.54,258.67 L83.98,260.73 L84.48,261.94 L85.04,263.98 L85.64,266.42 L86.26,268.74 L86.89,271.44 L87.51,273.73 L88.11,275.77 L88.66,278.02 L89.17,279.78 L89.65,281.35 L90.11,282.73 L90.57,284.22 L91.01,285.45 L91.46,287.08 L91.92,288.89 L92.40,290.07 L92.88,291.43 L93.36,292.41 L93.83,294.07 L94.31,294.83 L94.81,296.37 L95.33,297.35 L95.90,299.01 L96.52,300.08 L97.20,301.56 L97.96,302.53 L98.76,304.25 L99.59,305.53 L100.42,306.83 L101.23,308.56 L102.00,309.50 L102.69,310.42 L103.30,311.57 L103.83,312.33 L104.32,313.31 L104.78,313.49 L105.26,314.02 L105.77,314.62 L106.34,315.38 L106.99,315.58 L107.73,316.42 L108.50,316.32 L109.32,317.14 L110.19,317.31 L111.10,317.41 L112.05,317.49 L113.05,318.21 L114.10,317.90 L115.23,318.50 L116.44,318.44 L117.71,318.20 L119.02,318.33 L120.34,318.23 L121.66,318.42 L122.96,318.13 L124.21,317.55 L125.43,317.82 L126.67,317.75 L127.90,316.97 L129.12,317.32 L130.31,316.62 L131.45,316.90 L132.54,316.21 L133.56,316.36 L134.47,316.10 L135.24,315.85 L135.94,315.82 L136.60,315.69 L137.29,315.51 L138.04,315.29 L138.90,314.49 L139.92,314.11 L141.16,313.82 L142.59,312.88 L144.14,312.73 L145.75,312.01 L147.36,311.19 L148.90,310.42 L150.31,309.94 L151.52,309.19 L152.52,308.68 L153.35,308.28 L154.06,307.74 L154.69,307.28 L155.31,307.27 L155.95,307.11 L156.67,306.30 L157.51,305.74 L158.48,305.23 L159.51,305.01 L160.60,304.54 L161.73,303.95 L162.88,303.39 L164.04,302.84 L165.19,302.19 L166.31,301.75 L167.40,301.20 L168.50,301.11 L169.60,301.28 L170.70,300.57 L171.80,300.42 L172.90,300.78 L174.00,300.85 L175.10,300.09 L176.20,299.99 L177.30,299.84 L178.41,300.28 L179.51,299.55 L180.61,299.43 L181.71,299.93 L182.80,299.64 L183.89,299.53 L184.99,299.27 L186.09,299.38 L187.20,299.38 L188.30,299.50 L189.39,298.97 L190.46,299.12 L191.50,299.23 L192.50,299.08 L193.45,299.07 L194.34,298.80 L195.20,298.76 L196.04,298.67 L196.89,298.77 L197.75,298.41 L198.65,298.24 L199.61,298.55 L200.65,299.14 L201.76,298.90 L202.92,299.22 L204.10,299.61 L205.26,300.20 L206.39,300.66 L207.44,300.61 L208.40,301.28 L209.24,301.40 L209.99,301.52 L210.66,301.76 L211.29,301.92 L211.91,302.17 L212.56,302.46 L213.25,302.57 L214.02,302.50 L214.91,302.78 L215.93,302.58 L217.01,302.96 L218.11,302.27 L219.16,302.87 L220.11,302.87 L220.91,302.62 L221.50,302.51" fill="none" stroke="#cdcdcd" stroke-width="1.35" stroke-linejoin="round"/>
<path d="M71.82,338.70 L72.11,337.00 L72.49,335.00 L72.95,332.40 L73.46,329.89 L73.99,326.36 L74.54,323.62 L75.07,320.61 L75.56,317.58 L76.04,315.01 L76.52,312.15 L77.01,308.50 L77.49,305.41 L77.97,302.82 L78.43,299.59 L78.88,297.35 L79.30,295.18 L79.69,293.54 L80.05,292.09 L80.38,290.26 L80.71,289.53 L81.03,288.46 L81.37,287.65 L81.72,287.61 L82.11,286.90 L82.52,286.98 L82.94,287.14 L83.36,288.03 L83.81,288.54 L84.27,288.98 L84.76,289.90 L85.29,290.69 L85.85,292.05 L86.47,292.65 L87.16,293.87 L87.89,295.14 L88.64,296.14 L89.39,297.39 L90.12,298.86 L90.82,299.91 L91.47,300.95 L92.04,302.10 L92.55,303.43 L93.03,304.67 L93.49,305.82 L93.95,306.95 L94.44,308.06 L94.98,308.94 L95.58,309.74 L96.25,310.86 L96.96,311.46 L97.71,312.39 L98.48,312.86 L99.28,313.92 L100.10,314.52 L100.93,315.41 L101.76,315.53 L102.59,316.46 L103.45,316.90 L104.32,317.64 L105.21,318.04 L106.10,318.19 L107.01,319.26 L107.93,318.96 L108.87,319.78 L109.79,319.92 L110.70,320.09 L111.61,319.66 L112.54,319.61 L113.50,319.84 L114.51,319.57 L115.58,319.46 L116.72,319.35 L117.96,319.39 L119.28,318.97 L120.65,318.57 L122.08,318.53 L123.54,317.96 L125.01,318.16 L126.49,317.68 L127.95,317.13 L129.41,316.74 L130.90,315.99 L132.40,315.79 L133.91,315.28 L135.43,314.36 L136.94,313.90 L138.44,313.29 L139.92,312.83 L141.43,312.63 L142.98,311.59 L144.55,310.69 L146.10,310.07 L147.60,309.31 L149.03,308.59 L150.35,308.56 L151.52,307.97 L152.52,307.37 L153.35,306.66 L154.06,306.83 L154.69,306.03 L155.31,305.57 L155.95,305.33 L156.67,304.93 L157.51,305.08 L158.48,303.98 L159.51,303.56 L160.60,303.04 L161.73,302.34 L162.88,302.35 L164.04,301.83 L165.19,301.35 L166.31,301.03 L167.40,300.51 L168.50,300.49 L169.60,300.16 L170.70,299.48 L171.80,299.37 L172.90,299.45 L174.00,299.57 L175.10,299.17 L176.21,298.83 L177.34,298.86 L178.48,298.64 L179.61,297.76 L180.73,298.20 L181.83,297.69 L182.88,297.25 L183.89,297.28 L184.83,296.96 L185.71,296.73 L186.54,296.91 L187.35,296.72 L188.16,296.87 L189.00,296.49 L189.87,296.84 L190.82,296.85 L191.83,296.86 L192.88,296.56 L193.98,296.69 L195.10,297.12 L196.23,297.52 L197.37,297.80 L198.50,298.22 L199.61,298.09 L200.73,298.15 L201.88,298.61 L203.05,299.43 L204.20,299.81 L205.34,299.79 L206.43,300.27 L207.46,301.08 L208.40,300.88 L209.24,301.33 L209.99,302.17 L210.66,302.42 L211.29,302.59 L211.91,303.09 L212.56,303.38 L213.25,303.45 L214.02,303.77 L214.91,304.39 L215.93,304.37 L217.01,304.80 L218.11,305.43 L219.16,305.90 L220.11,306.19 L220.91,306.09 L221.50,306.34" fill="none" stroke="#f29090" stroke-width="1.1" stroke-linejoin="round"/>
<path d="M71.82,338.70 L72.19,337.79 L72.69,336.71 L73.29,335.16 L73.95,333.04 L74.63,331.71 L75.31,329.68 L75.94,327.73 L76.50,325.93 L76.98,324.63 L77.43,322.65 L77.85,320.60 L78.25,318.28 L78.65,316.33 L79.04,314.63 L79.44,313.10 L79.87,311.40 L80.29,310.60 L80.72,309.21 L81.14,308.64 L81.57,307.43 L82.01,307.03 L82.46,306.30 L82.93,305.37 L83.42,305.00 L83.94,304.39 L84.50,303.80 L85.08,303.55 L85.67,302.98 L86.25,302.93 L86.83,302.54 L87.39,302.31 L87.91,302.43 L88.40,302.23 L88.85,302.05 L89.29,302.51 L89.71,302.53 L90.13,302.81 L90.56,302.92 L91.00,303.75 L91.47,303.65 L91.94,304.48 L92.41,304.26 L92.88,305.22 L93.36,305.53 L93.86,305.81 L94.39,306.16 L94.96,306.51 L95.58,307.06 L96.25,307.46 L96.96,308.21 L97.71,308.52 L98.48,308.98 L99.28,309.33 L100.10,310.11 L100.93,310.58 L101.76,310.69 L102.59,310.95 L103.43,311.20 L104.29,311.41 L105.16,311.76 L106.05,312.06 L106.96,312.09 L107.90,312.44 L108.87,312.18 L109.88,312.35 L110.95,312.81 L112.05,312.94 L113.17,313.18 L114.29,313.42 L115.39,313.27 L116.46,313.43 L117.47,313.71 L118.43,313.79 L119.36,314.05 L120.25,314.63 L121.12,314.41 L121.98,314.51 L122.84,315.27 L123.70,314.94 L124.58,315.43 L125.46,315.68 L126.33,315.41 L127.20,315.86 L128.07,315.69 L128.94,315.66 L129.84,315.62 L130.75,315.54 L131.69,315.44 L132.64,315.43 L133.59,315.13 L134.55,314.56 L135.53,314.38 L136.54,314.20 L137.60,313.62 L138.73,312.58 L139.92,312.16 L141.25,311.77 L142.72,310.44 L144.27,309.88 L145.86,309.27 L147.44,307.83 L148.94,306.84 L150.32,306.12 L151.52,305.61 L152.55,304.85 L153.43,304.73 L154.21,303.70 L154.90,303.56 L155.55,303.17 L156.19,302.54 L156.83,301.81 L157.51,301.34 L158.23,300.79 L158.96,300.23 L159.68,299.81 L160.39,299.20 L161.08,299.20 L161.74,298.59 L162.36,297.89 L162.94,297.74 L163.42,297.17 L163.80,297.34 L164.11,297.37 L164.41,296.97 L164.74,297.49 L165.13,297.18 L165.64,297.15 L166.31,297.31 L167.15,297.09 L168.12,297.27 L169.21,297.43 L170.36,297.11 L171.56,296.81 L172.77,297.39 L173.96,297.43 L175.10,297.08 L176.22,297.38 L177.38,297.58 L178.55,298.09 L179.72,297.96 L180.86,298.42 L181.94,298.28 L182.96,298.80 L183.89,299.33 L184.68,299.37 L185.33,299.05 L185.89,299.71 L186.41,299.47 L186.94,299.58 L187.54,300.14 L188.25,299.99 L189.13,299.84 L190.19,300.38 L191.38,300.15 L192.67,300.21 L194.03,300.34 L195.44,300.59 L196.85,300.67 L198.25,300.72 L199.61,301.09 L200.93,300.67 L202.25,301.34 L203.57,301.68 L204.89,301.54 L206.23,301.95 L207.56,302.29 L208.91,302.95 L210.27,303.51 L211.73,303.27 L213.30,304.25 L214.94,304.60 L216.55,304.91 L218.09,305.23 L219.47,305.18 L220.63,306.04 L221.50,305.99" fill="none" stroke="#1c1cb0" stroke-width="1.1" stroke-linejoin="round"/>
<path d="M71.82,338.70 L72.04,336.72 L72.32,334.07 L72.67,330.25 L73.05,326.50 L73.45,322.52 L73.86,318.77 L74.26,314.74 L74.63,310.99 L74.98,307.13 L75.32,302.81 L75.67,298.61 L76.02,294.80 L76.37,290.46 L76.72,286.11 L77.07,282.67 L77.43,279.35 L77.80,276.52 L78.18,273.60 L78.56,270.81 L78.94,268.52 L79.32,266.65 L79.70,264.88 L80.07,263.44 L80.43,262.48 L80.76,262.06 L81.06,262.09 L81.35,262.58 L81.63,262.67 L81.93,263.82 L82.26,264.64 L82.62,265.77 L83.05,267.13 L83.54,268.72 L84.11,270.82 L84.73,273.04 L85.37,274.87 L86.02,277.33 L86.64,279.24 L87.21,281.13 L87.72,282.82 L88.16,284.71 L88.54,285.50 L88.89,286.86 L89.21,288.12 L89.52,288.72 L89.83,289.86 L90.17,290.97 L90.53,291.66 L90.90,292.74 L91.27,294.04 L91.63,294.93 L92.00,295.79 L92.40,297.07 L92.85,298.01 L93.34,299.19 L93.90,300.11 L94.55,301.51 L95.28,302.27 L96.08,303.79 L96.91,304.83 L97.76,306.23 L98.58,307.53 L99.36,309.05 L100.07,309.94 L100.70,310.90 L101.28,311.57 L101.81,312.74 L102.33,313.21 L102.84,313.84 L103.37,314.29 L103.94,315.13 L104.56,315.97 L105.23,316.18 L105.93,317.06 L106.66,317.42 L107.40,317.87 L108.17,317.80 L108.95,317.99 L109.75,318.39 L110.55,318.52 L111.37,318.88 L112.21,319.50 L113.07,319.58 L113.94,319.15 L114.82,319.57 L115.71,319.62 L116.59,319.48 L117.47,319.61 L118.35,319.20 L119.24,319.70 L120.12,319.64 L121.02,319.06 L121.91,318.85 L122.80,318.81 L123.69,319.09 L124.58,318.80 L125.46,318.24 L126.33,318.11 L127.20,317.47 L128.07,317.03 L128.94,316.76 L129.84,316.88 L130.75,316.51 L131.69,316.02 L132.69,315.24 L133.74,314.81 L134.82,313.87 L135.91,313.09 L136.99,312.47 L138.04,312.31 L139.02,311.22 L139.92,310.76 L140.73,310.74 L141.46,309.90 L142.13,309.80 L142.77,309.15 L143.38,309.42 L144.01,308.62 L144.66,308.45 L145.35,308.03 L146.09,307.52 L146.85,307.71 L147.62,306.92 L148.40,306.33 L149.19,305.82 L149.98,305.43 L150.76,304.96 L151.52,304.70 L152.29,304.09 L153.05,303.78 L153.81,303.48 L154.56,302.34 L155.32,301.82 L156.06,301.51 L156.79,300.85 L157.51,300.37 L158.23,299.94 L158.96,299.41 L159.68,299.11 L160.39,298.16 L161.08,297.49 L161.74,297.37 L162.36,296.94 L162.94,296.41 L163.45,296.22 L163.90,295.95 L164.31,296.18 L164.69,295.69 L165.06,295.43 L165.45,295.64 L165.85,295.16 L166.31,295.00 L166.79,295.06 L167.27,295.29 L167.77,294.97 L168.28,294.91 L168.82,294.38 L169.38,294.64 L169.97,294.27 L170.61,294.88 L171.28,295.06 L172.00,294.75 L172.75,295.17 L173.52,295.45 L174.32,295.58 L175.13,296.04 L175.95,296.08 L176.78,296.37 L177.62,296.54 L178.46,297.13 L179.31,297.28 L180.19,297.65 L181.08,297.33 L181.99,297.84 L182.93,298.19 L183.89,298.08 L184.91,298.07 L185.97,298.14 L187.08,298.68 L188.20,298.71 L189.32,298.45 L190.42,298.62 L191.49,298.33 L192.50,298.74 L193.44,299.03 L194.30,298.42 L195.12,298.70 L195.93,298.89 L196.75,298.77 L197.62,298.64 L198.56,298.95 L199.61,299.24 L200.77,299.33 L202.01,299.58 L203.32,300.58 L204.68,301.11 L206.08,301.53 L207.49,302.13 L208.89,302.43 L210.27,302.96 L211.73,303.46 L213.30,304.01 L214.94,304.54 L216.55,304.53 L218.09,304.98 L219.47,305.76 L220.63,305.70 L221.50,305.99" fill="none" stroke="#000000" stroke-width="1.1" stroke-linejoin="round"/>
<line x1="137.30" y1="214.70" x2="154.00" y2="214.70" stroke="#2a9a92" stroke-width="1.3" />
<text x="156.30" y="217.90" font-size="9.0" text-anchor="start" font-weight="normal" fill="#1a1a1a" >Li-Cl</text>
<text x="174.90" y="219.90" font-size="6.4" text-anchor="start" font-weight="normal" fill="#1a1a1a" >C1-2Cl</text>
<line x1="137.30" y1="227.95" x2="154.00" y2="227.95" stroke="#1c1cb0" stroke-width="1.3" />
<text x="156.30" y="231.15" font-size="9.0" text-anchor="start" font-weight="normal" fill="#1a1a1a" >Li-Cl</text>
<text x="174.90" y="233.15" font-size="6.4" text-anchor="start" font-weight="normal" fill="#1a1a1a" >C2-2Cl</text>
<line x1="137.30" y1="241.20" x2="154.00" y2="241.20" stroke="#f29090" stroke-width="1.3" />
<text x="156.30" y="244.40" font-size="9.0" text-anchor="start" font-weight="normal" fill="#1a1a1a" >Li-Cl</text>
<text x="174.90" y="246.40" font-size="6.4" text-anchor="start" font-weight="normal" fill="#1a1a1a" >C3-2Cl</text>
<line x1="137.30" y1="254.45" x2="154.00" y2="254.45" stroke="#000" stroke-width="1.3" />
<text x="156.30" y="257.65" font-size="9.0" text-anchor="start" font-weight="normal" fill="#1a1a1a" >Li-Cl</text>
<text x="174.90" y="259.65" font-size="6.4" text-anchor="start" font-weight="normal" fill="#1a1a1a" >C4-2Cl</text>
<line x1="137.30" y1="267.70" x2="154.00" y2="267.70" stroke="#cdcdcd" stroke-width="1.3" />
<text x="156.30" y="270.90" font-size="9.0" text-anchor="start" font-weight="normal" fill="#1a1a1a" >Li-Cl</text>
<text x="174.90" y="272.90" font-size="6.4" text-anchor="start" font-weight="normal" fill="#1a1a1a" >C5-2Cl</text>
<path d="M264.6,339.3 V199.5 H452.5 V339.3" fill="none" stroke="#7a7a7a" stroke-width="1.15"/>
<line x1="264.6" y1="199.5" x2="264.6" y2="339.3" stroke="#858585" stroke-width="1.15"/>
<line x1="264.1" y1="339.3" x2="453.0" y2="339.3" stroke="#333" stroke-width="1.3"/>
<line x1="262.00" y1="339.30" x2="264.60" y2="339.30" stroke="#5a5a5a" stroke-width="0.9" />
<text x="261.00" y="342.40" font-size="9.4" text-anchor="end" font-weight="normal" fill="#1a1a1a" >0</text>
<line x1="262.00" y1="316.00" x2="264.60" y2="316.00" stroke="#5a5a5a" stroke-width="0.9" />
<text x="261.00" y="319.10" font-size="9.4" text-anchor="end" font-weight="normal" fill="#1a1a1a" >5</text>
<line x1="262.00" y1="292.70" x2="264.60" y2="292.70" stroke="#5a5a5a" stroke-width="0.9" />
<text x="261.00" y="295.80" font-size="9.4" text-anchor="end" font-weight="normal" fill="#1a1a1a" >10</text>
<line x1="262.00" y1="269.40" x2="264.60" y2="269.40" stroke="#5a5a5a" stroke-width="0.9" />
<text x="261.00" y="272.50" font-size="9.4" text-anchor="end" font-weight="normal" fill="#1a1a1a" >15</text>
<line x1="262.00" y1="246.10" x2="264.60" y2="246.10" stroke="#5a5a5a" stroke-width="0.9" />
<text x="261.00" y="249.20" font-size="9.4" text-anchor="end" font-weight="normal" fill="#1a1a1a" >20</text>
<line x1="262.00" y1="222.80" x2="264.60" y2="222.80" stroke="#5a5a5a" stroke-width="0.9" />
<text x="261.00" y="225.90" font-size="9.4" text-anchor="end" font-weight="normal" fill="#1a1a1a" >25</text>
<line x1="262.00" y1="199.50" x2="264.60" y2="199.50" stroke="#5a5a5a" stroke-width="0.9" />
<text x="260.60" y="202.50" font-size="9.4" text-anchor="end" font-weight="normal" fill="#1a1a1a" >30</text>
<line x1="263.10" y1="327.65" x2="264.60" y2="327.65" stroke="#5a5a5a" stroke-width="0.9" />
<line x1="263.10" y1="304.35" x2="264.60" y2="304.35" stroke="#5a5a5a" stroke-width="0.9" />
<line x1="263.10" y1="281.05" x2="264.60" y2="281.05" stroke="#5a5a5a" stroke-width="0.9" />
<line x1="263.10" y1="257.75" x2="264.60" y2="257.75" stroke="#5a5a5a" stroke-width="0.9" />
<line x1="263.10" y1="234.45" x2="264.60" y2="234.45" stroke="#5a5a5a" stroke-width="0.9" />
<line x1="263.10" y1="211.15" x2="264.60" y2="211.15" stroke="#5a5a5a" stroke-width="0.9" />
<text x="0.00" y="0.00" font-size="20.5" text-anchor="start" font-weight="bold" fill="#000" transform="translate(237.2,209.6) scale(1.1,1)">d</text>
<line x1="293.29" y1="319.96" x2="311.07" y2="319.03" stroke="#111" stroke-width="1.25" stroke-dasharray="3 1.8"/>
<line x1="330.87" y1="319.03" x2="348.65" y2="234.78" stroke="#111" stroke-width="1.25" stroke-dasharray="3 1.8"/>
<line x1="368.45" y1="234.78" x2="386.23" y2="229.28" stroke="#111" stroke-width="1.25" stroke-dasharray="3 1.8"/>
<line x1="406.03" y1="229.28" x2="423.81" y2="223.83" stroke="#111" stroke-width="1.25" stroke-dasharray="3 1.8"/>
<line x1="273.49" y1="319.96" x2="293.29" y2="319.96" stroke="#0e807c" stroke-width="3.1" stroke-linecap="round"/>
<text x="283.69" y="316.86" font-size="7.9" text-anchor="middle" font-weight="normal" fill="#111" textLength="14.53" lengthAdjust="spacingAndGlyphs" >4.15</text>
<line x1="311.07" y1="319.03" x2="330.87" y2="319.03" stroke="#0a0a9c" stroke-width="3.1" stroke-linecap="round"/>
<text x="321.27" y="315.93" font-size="7.9" text-anchor="middle" font-weight="normal" fill="#111" textLength="14.53" lengthAdjust="spacingAndGlyphs" >4.35</text>
<line x1="348.65" y1="234.78" x2="368.45" y2="234.78" stroke="#f78c91" stroke-width="3.1" stroke-linecap="round"/>
<text x="358.85" y="231.68" font-size="7.9" text-anchor="middle" font-weight="normal" fill="#111" textLength="18.68" lengthAdjust="spacingAndGlyphs" >22.43</text>
<line x1="386.23" y1="229.28" x2="406.03" y2="229.28" stroke="#000000" stroke-width="3.1" stroke-linecap="round"/>
<text x="396.43" y="226.18" font-size="7.9" text-anchor="middle" font-weight="normal" fill="#111" textLength="18.68" lengthAdjust="spacingAndGlyphs" >23.61</text>
<line x1="423.81" y1="223.83" x2="443.61" y2="223.83" stroke="#c4c4c4" stroke-width="3.1" stroke-linecap="round"/>
<text x="434.01" y="220.73" font-size="7.9" text-anchor="middle" font-weight="normal" fill="#111" textLength="18.68" lengthAdjust="spacingAndGlyphs" >24.78</text>
<text x="269.49" y="346.40" font-size="6.0" text-anchor="start" font-weight="normal" fill="#222" >LiFSI-TEP</text>
<text x="269.19" y="353.50" font-size="6.0" text-anchor="start" font-weight="normal" fill="#222" textLength="20.3" lengthAdjust="spacingAndGlyphs" >/C1-2Cl</text>
<text x="307.07" y="346.40" font-size="6.0" text-anchor="start" font-weight="normal" fill="#222" >LiFSI-TEP</text>
<text x="306.77" y="353.50" font-size="6.0" text-anchor="start" font-weight="normal" fill="#222" textLength="20.3" lengthAdjust="spacingAndGlyphs" >/C2-2Cl</text>
<text x="344.65" y="346.40" font-size="6.0" text-anchor="start" font-weight="normal" fill="#222" >LiFSI-TEP</text>
<text x="344.35" y="353.50" font-size="6.0" text-anchor="start" font-weight="normal" fill="#222" textLength="20.3" lengthAdjust="spacingAndGlyphs" >/C3-2Cl</text>
<text x="382.23" y="346.40" font-size="6.0" text-anchor="start" font-weight="normal" fill="#222" >LiFSI-TEP</text>
<text x="381.93" y="353.50" font-size="6.0" text-anchor="start" font-weight="normal" fill="#222" textLength="20.3" lengthAdjust="spacingAndGlyphs" >/C4-2Cl</text>
<text x="419.81" y="346.40" font-size="6.0" text-anchor="start" font-weight="normal" fill="#222" >LiFSI-TEP</text>
<text x="419.51" y="353.50" font-size="6.0" text-anchor="start" font-weight="normal" fill="#222" textLength="20.3" lengthAdjust="spacingAndGlyphs" >/C5-2Cl</text>
<text x="0.00" y="0.00" font-size="9.4" text-anchor="middle" font-weight="normal" fill="#1a1a1a" transform="translate(246.3,263.3) rotate(-90)">FTIR, &#916;&#948; (cm<tspan dy="-3.4" font-size="6">-1</tspan><tspan dy="3.4">)</tspan></text>
<path d="M497.3,339.3 V199.5 H683.6 V339.3" fill="none" stroke="#7a7a7a" stroke-width="1.15"/>
<line x1="497.3" y1="199.5" x2="497.3" y2="339.3" stroke="#444" stroke-width="1.15"/>
<line x1="496.8" y1="339.3" x2="684.1" y2="339.3" stroke="#333" stroke-width="1.3"/>
<line x1="494.70" y1="339.30" x2="497.30" y2="339.30" stroke="#5a5a5a" stroke-width="0.9" />
<text x="493.10" y="342.30" font-size="9.4" text-anchor="end" font-weight="normal" fill="#1a1a1a" >0.0</text>
<line x1="494.70" y1="299.36" x2="497.30" y2="299.36" stroke="#5a5a5a" stroke-width="0.9" />
<text x="493.10" y="302.36" font-size="9.4" text-anchor="end" font-weight="normal" fill="#1a1a1a" >0.1</text>
<line x1="494.70" y1="259.41" x2="497.30" y2="259.41" stroke="#5a5a5a" stroke-width="0.9" />
<text x="493.10" y="262.41" font-size="9.4" text-anchor="end" font-weight="normal" fill="#1a1a1a" >0.2</text>
<line x1="494.70" y1="219.47" x2="497.30" y2="219.47" stroke="#5a5a5a" stroke-width="0.9" />
<text x="493.10" y="222.47" font-size="9.4" text-anchor="end" font-weight="normal" fill="#1a1a1a" >0.3</text>
<line x1="495.80" y1="319.33" x2="497.30" y2="319.33" stroke="#5a5a5a" stroke-width="0.9" />
<line x1="495.80" y1="279.39" x2="497.30" y2="279.39" stroke="#5a5a5a" stroke-width="0.9" />
<line x1="495.80" y1="239.44" x2="497.30" y2="239.44" stroke="#5a5a5a" stroke-width="0.9" />
<text x="0.00" y="0.00" font-size="20.5" text-anchor="start" font-weight="bold" fill="#000" transform="translate(468.1,209.6) scale(1.05,1)">e</text>
<line x1="525.68" y1="327.32" x2="543.64" y2="227.46" stroke="#111" stroke-width="1.25" stroke-dasharray="3 1.8"/>
<line x1="563.04" y1="227.46" x2="581.00" y2="235.45" stroke="#111" stroke-width="1.25" stroke-dasharray="3 1.8"/>
<line x1="600.40" y1="235.45" x2="618.36" y2="307.35" stroke="#111" stroke-width="1.25" stroke-dasharray="3 1.8"/>
<line x1="637.76" y1="307.35" x2="655.72" y2="319.33" stroke="#111" stroke-width="1.25" stroke-dasharray="3 1.8"/>
<line x1="506.28" y1="327.32" x2="525.68" y2="327.32" stroke="#0e807c" stroke-width="3.1" stroke-linecap="round"/>
<text x="516.58" y="324.02" font-size="7.9" text-anchor="middle" font-weight="normal" fill="#111" textLength="14.53" lengthAdjust="spacingAndGlyphs" >0.03</text>
<line x1="543.64" y1="227.46" x2="563.04" y2="227.46" stroke="#0a0a9c" stroke-width="3.1" stroke-linecap="round"/>
<text x="553.94" y="224.16" font-size="7.9" text-anchor="middle" font-weight="normal" fill="#111" textLength="14.53" lengthAdjust="spacingAndGlyphs" >0.28</text>
<line x1="581.00" y1="235.45" x2="600.40" y2="235.45" stroke="#f78c91" stroke-width="3.1" stroke-linecap="round"/>
<text x="591.30" y="232.15" font-size="7.9" text-anchor="middle" font-weight="normal" fill="#111" textLength="14.53" lengthAdjust="spacingAndGlyphs" >0.26</text>
<line x1="618.36" y1="307.35" x2="637.76" y2="307.35" stroke="#000000" stroke-width="3.1" stroke-linecap="round"/>
<text x="628.66" y="304.05" font-size="7.9" text-anchor="middle" font-weight="normal" fill="#111" textLength="14.53" lengthAdjust="spacingAndGlyphs" >0.08</text>
<line x1="655.72" y1="319.33" x2="675.12" y2="319.33" stroke="#c4c4c4" stroke-width="3.1" stroke-linecap="round"/>
<text x="666.02" y="316.03" font-size="7.9" text-anchor="middle" font-weight="normal" fill="#111" textLength="14.53" lengthAdjust="spacingAndGlyphs" >0.05</text>
<text x="502.08" y="346.40" font-size="6.0" text-anchor="start" font-weight="normal" fill="#222" >LiFSI-TEP</text>
<text x="501.78" y="353.50" font-size="6.0" text-anchor="start" font-weight="normal" fill="#222" textLength="20.3" lengthAdjust="spacingAndGlyphs" >/C1-2Cl</text>
<text x="539.44" y="346.40" font-size="6.0" text-anchor="start" font-weight="normal" fill="#222" >LiFSI-TEP</text>
<text x="539.14" y="353.50" font-size="6.0" text-anchor="start" font-weight="normal" fill="#222" textLength="20.3" lengthAdjust="spacingAndGlyphs" >/C2-2Cl</text>
<text x="576.80" y="346.40" font-size="6.0" text-anchor="start" font-weight="normal" fill="#222" >LiFSI-TEP</text>
<text x="576.50" y="353.50" font-size="6.0" text-anchor="start" font-weight="normal" fill="#222" textLength="20.3" lengthAdjust="spacingAndGlyphs" >/C3-2Cl</text>
<text x="614.16" y="346.40" font-size="6.0" text-anchor="start" font-weight="normal" fill="#222" >LiFSI-TEP</text>
<text x="613.86" y="353.50" font-size="6.0" text-anchor="start" font-weight="normal" fill="#222" textLength="20.3" lengthAdjust="spacingAndGlyphs" >/C4-2Cl</text>
<text x="651.52" y="346.40" font-size="6.0" text-anchor="start" font-weight="normal" fill="#222" >LiFSI-TEP</text>
<text x="651.22" y="353.50" font-size="6.0" text-anchor="start" font-weight="normal" fill="#222" textLength="20.3" lengthAdjust="spacingAndGlyphs" >/C5-2Cl</text>
<text x="0.00" y="0.00" font-size="9.55" text-anchor="middle" font-weight="normal" fill="#1a1a1a" transform="translate(475.6,267.1) rotate(-90)"><tspan dy="-3.4" font-size="6.2">7</tspan><tspan dy="3.4">Li NMR, &#916;&#948; (ppm)</tspan></text>
<line x1="37.90" y1="375.20" x2="37.90" y2="514.50" stroke="#5a5a5a" stroke-width="0.9" />
<line x1="37.90" y1="514.50" x2="678.30" y2="514.50" stroke="#444" stroke-width="1.0" />
<line x1="35.30" y1="514.50" x2="37.90" y2="514.50" stroke="#5a5a5a" stroke-width="0.9" />
<text x="34.00" y="517.50" font-size="8.8" text-anchor="end" font-weight="normal" fill="#1a1a1a" >0</text>
<line x1="35.30" y1="489.18" x2="37.90" y2="489.18" stroke="#5a5a5a" stroke-width="0.9" />
<text x="34.00" y="492.18" font-size="8.8" text-anchor="end" font-weight="normal" fill="#1a1a1a" >20</text>
<line x1="35.30" y1="463.86" x2="37.90" y2="463.86" stroke="#5a5a5a" stroke-width="0.9" />
<text x="34.00" y="466.86" font-size="8.8" text-anchor="end" font-weight="normal" fill="#1a1a1a" >40</text>
<line x1="35.30" y1="438.54" x2="37.90" y2="438.54" stroke="#5a5a5a" stroke-width="0.9" />
<text x="34.00" y="441.54" font-size="8.8" text-anchor="end" font-weight="normal" fill="#1a1a1a" >60</text>
<line x1="35.30" y1="413.22" x2="37.90" y2="413.22" stroke="#5a5a5a" stroke-width="0.9" />
<text x="34.00" y="416.22" font-size="8.8" text-anchor="end" font-weight="normal" fill="#1a1a1a" >80</text>
<line x1="35.30" y1="387.90" x2="37.90" y2="387.90" stroke="#5a5a5a" stroke-width="0.9" />
<text x="34.00" y="390.90" font-size="8.8" text-anchor="end" font-weight="normal" fill="#1a1a1a" >100</text>
<line x1="36.40" y1="501.84" x2="37.90" y2="501.84" stroke="#5a5a5a" stroke-width="0.9" />
<line x1="36.40" y1="476.52" x2="37.90" y2="476.52" stroke="#5a5a5a" stroke-width="0.9" />
<line x1="36.40" y1="451.20" x2="37.90" y2="451.20" stroke="#5a5a5a" stroke-width="0.9" />
<line x1="36.40" y1="425.88" x2="37.90" y2="425.88" stroke="#5a5a5a" stroke-width="0.9" />
<line x1="36.40" y1="400.56" x2="37.90" y2="400.56" stroke="#5a5a5a" stroke-width="0.9" />
<line x1="36.40" y1="375.24" x2="37.90" y2="375.24" stroke="#5a5a5a" stroke-width="0.9" />
<text x="0.00" y="0.00" font-size="21" text-anchor="start" font-weight="bold" fill="#000" transform="translate(12.0,377.4) scale(1.05,1)">c</text>
<text x="0.00" y="0.00" font-size="9.3" text-anchor="middle" font-weight="normal" fill="#1a1a1a" transform="translate(14.5,441.4) rotate(-90)">Percentage (%)</text>
<rect x="50.70" y="392.84" width="34.2" height="121.66" fill="#fa888d"/>
<rect x="84.90" y="509.69" width="34.2" height="4.81" fill="url(#hc)"/>
<line x1="67.80" y1="391.30" x2="67.80" y2="394.50" stroke="#222" stroke-width="0.9" />
<line x1="64.80" y1="391.30" x2="70.80" y2="391.30" stroke="#222" stroke-width="0.9" />
<line x1="64.80" y1="394.50" x2="70.80" y2="394.50" stroke="#222" stroke-width="0.9" />
<line x1="102.00" y1="508.20" x2="102.00" y2="511.70" stroke="#222" stroke-width="0.9" />
<line x1="99.00" y1="508.20" x2="105.00" y2="508.20" stroke="#222" stroke-width="0.9" />
<line x1="99.00" y1="511.70" x2="105.00" y2="511.70" stroke="#222" stroke-width="0.9" />
<rect x="178.70" y="406.76" width="34.2" height="107.74" fill="#fa888d"/>
<rect x="212.90" y="495.13" width="34.2" height="19.37" fill="url(#hc)"/>
<line x1="195.80" y1="403.80" x2="195.80" y2="410.50" stroke="#222" stroke-width="0.9" />
<line x1="192.80" y1="403.80" x2="198.80" y2="403.80" stroke="#222" stroke-width="0.9" />
<line x1="192.80" y1="410.50" x2="198.80" y2="410.50" stroke="#222" stroke-width="0.9" />
<line x1="230.00" y1="492.40" x2="230.00" y2="498.50" stroke="#222" stroke-width="0.9" />
<line x1="227.00" y1="492.40" x2="233.00" y2="492.40" stroke="#222" stroke-width="0.9" />
<line x1="227.00" y1="498.50" x2="233.00" y2="498.50" stroke="#222" stroke-width="0.9" />
<rect x="306.70" y="408.54" width="34.2" height="105.96" fill="#fa888d"/>
<rect x="340.90" y="493.86" width="34.2" height="20.64" fill="url(#hc)"/>
<line x1="323.80" y1="405.40" x2="323.80" y2="411.60" stroke="#222" stroke-width="0.9" />
<line x1="320.80" y1="405.40" x2="326.80" y2="405.40" stroke="#222" stroke-width="0.9" />
<line x1="320.80" y1="411.60" x2="326.80" y2="411.60" stroke="#222" stroke-width="0.9" />
<line x1="358.00" y1="490.80" x2="358.00" y2="497.30" stroke="#222" stroke-width="0.9" />
<line x1="355.00" y1="490.80" x2="361.00" y2="490.80" stroke="#222" stroke-width="0.9" />
<line x1="355.00" y1="497.30" x2="361.00" y2="497.30" stroke="#222" stroke-width="0.9" />
<rect x="434.70" y="413.09" width="34.2" height="101.41" fill="#fa888d"/>
<rect x="468.90" y="495.26" width="34.2" height="19.24" fill="url(#hc)"/>
<rect x="503.10" y="508.04" width="34.2" height="6.46" fill="url(#hb)"/>
<line x1="451.80" y1="410.40" x2="451.80" y2="416.40" stroke="#222" stroke-width="0.9" />
<line x1="448.80" y1="410.40" x2="454.80" y2="410.40" stroke="#222" stroke-width="0.9" />
<line x1="448.80" y1="416.40" x2="454.80" y2="416.40" stroke="#222" stroke-width="0.9" />
<line x1="486.00" y1="492.40" x2="486.00" y2="498.40" stroke="#222" stroke-width="0.9" />
<line x1="483.00" y1="492.40" x2="489.00" y2="492.40" stroke="#222" stroke-width="0.9" />
<line x1="483.00" y1="498.40" x2="489.00" y2="498.40" stroke="#222" stroke-width="0.9" />
<line x1="520.20" y1="506.40" x2="520.20" y2="509.30" stroke="#222" stroke-width="0.9" />
<line x1="517.20" y1="506.40" x2="523.20" y2="506.40" stroke="#222" stroke-width="0.9" />
<line x1="517.20" y1="509.30" x2="523.20" y2="509.30" stroke="#222" stroke-width="0.9" />
<rect x="562.80" y="414.99" width="34.2" height="99.51" fill="#fa888d"/>
<rect x="597.00" y="497.03" width="34.2" height="17.47" fill="url(#hc)"/>
<rect x="631.20" y="505.00" width="34.2" height="9.50" fill="url(#hb)"/>
<line x1="579.90" y1="411.30" x2="579.90" y2="418.20" stroke="#222" stroke-width="0.9" />
<line x1="576.90" y1="411.30" x2="582.90" y2="411.30" stroke="#222" stroke-width="0.9" />
<line x1="576.90" y1="418.20" x2="582.90" y2="418.20" stroke="#222" stroke-width="0.9" />
<line x1="614.10" y1="493.90" x2="614.10" y2="500.40" stroke="#222" stroke-width="0.9" />
<line x1="611.10" y1="493.90" x2="617.10" y2="493.90" stroke="#222" stroke-width="0.9" />
<line x1="611.10" y1="500.40" x2="617.10" y2="500.40" stroke="#222" stroke-width="0.9" />
<line x1="648.30" y1="503.50" x2="648.30" y2="506.40" stroke="#222" stroke-width="0.9" />
<line x1="645.30" y1="503.50" x2="651.30" y2="503.50" stroke="#222" stroke-width="0.9" />
<line x1="645.30" y1="506.40" x2="651.30" y2="506.40" stroke="#222" stroke-width="0.9" />
<line x1="37.90" y1="514.50" x2="678.30" y2="514.50" stroke="#555" stroke-width="1.0" />
<text x="87.00" y="527.40" font-size="9.3" text-anchor="middle" font-weight="normal" fill="#111" >LiFSI-TEP/C1-2Cl</text>
<text x="218.50" y="527.40" font-size="9.3" text-anchor="middle" font-weight="normal" fill="#111" >LiFSI-TEP/C2-2Cl</text>
<text x="345.40" y="528.60" font-size="9.3" text-anchor="middle" font-weight="normal" fill="#111" >LiFSI-TEP/C3-2Cl</text>
<text x="479.00" y="527.60" font-size="9.3" text-anchor="middle" font-weight="normal" fill="#111" >LiFSI-TEP/C4-2Cl</text>
<text x="613.00" y="528.40" font-size="9.3" text-anchor="middle" font-weight="normal" fill="#111" >LiFSI-TEP/C5-2Cl</text>
<rect x="500.8" y="370.2" width="16.2" height="7.4" fill="#fa888d"/>
<rect x="500.8" y="385.6" width="16.2" height="7.2" fill="url(#hc)"/>
<rect x="500.8" y="400" width="16.2" height="7.4" fill="url(#hb)"/>
<text x="518.30" y="377.20" font-size="9.3" text-anchor="start" font-weight="normal" fill="#111" >Free C-2Cl</text>
<text x="518.30" y="392.50" font-size="9.3" text-anchor="start" font-weight="normal" fill="#111" >Single Li<tspan dy="-3.6" font-size="6.8">+</tspan><tspan dy="3.6"> coordinated C-2Cl (SLCC)</tspan></text>
<text x="518.30" y="406.90" font-size="9.3" text-anchor="start" font-weight="normal" fill="#111" >Double Li<tspan dy="-3.6" font-size="6.8">+</tspan><tspan dy="3.6"> coordinated C-2Cl (DLCC)</tspan></text>
</svg></body></html>
